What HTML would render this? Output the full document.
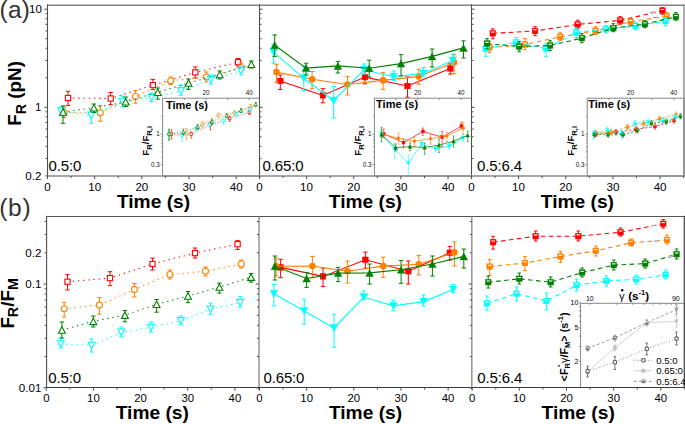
<!DOCTYPE html>
<html><head><meta charset="utf-8"><style>
html,body{margin:0;padding:0;background:#fff;}
svg{display:block;font-family:"Liberation Sans",sans-serif;}
</style></head><body>
<svg width="685" height="424" viewBox="0 0 685 424">
<rect x="0" y="0" width="685" height="424" fill="#fff"/>
<polyline points="68.00,98.00 110.70,98.50 152.90,85.10 195.30,72.40 238.10,62.20" fill="none" stroke="#ff0000" stroke-width="1.1" stroke-dasharray="1.3 3.9"/>
<line x1="68.00" y1="91.30" x2="68.00" y2="105.40" stroke="#ff0000" stroke-width="1.0" />
<line x1="65.80" y1="91.30" x2="70.20" y2="91.30" stroke="#ff0000" stroke-width="1.0" />
<line x1="65.80" y1="105.40" x2="70.20" y2="105.40" stroke="#ff0000" stroke-width="1.0" />
<line x1="110.70" y1="92.50" x2="110.70" y2="104.70" stroke="#ff0000" stroke-width="1.0" />
<line x1="108.50" y1="92.50" x2="112.90" y2="92.50" stroke="#ff0000" stroke-width="1.0" />
<line x1="108.50" y1="104.70" x2="112.90" y2="104.70" stroke="#ff0000" stroke-width="1.0" />
<line x1="152.90" y1="79.40" x2="152.90" y2="89.70" stroke="#ff0000" stroke-width="1.0" />
<line x1="150.70" y1="79.40" x2="155.10" y2="79.40" stroke="#ff0000" stroke-width="1.0" />
<line x1="150.70" y1="89.70" x2="155.10" y2="89.70" stroke="#ff0000" stroke-width="1.0" />
<line x1="195.30" y1="67.00" x2="195.30" y2="78.00" stroke="#ff0000" stroke-width="1.0" />
<line x1="193.10" y1="67.00" x2="197.50" y2="67.00" stroke="#ff0000" stroke-width="1.0" />
<line x1="193.10" y1="78.00" x2="197.50" y2="78.00" stroke="#ff0000" stroke-width="1.0" />
<line x1="238.10" y1="58.50" x2="238.10" y2="66.00" stroke="#ff0000" stroke-width="1.0" />
<line x1="235.90" y1="58.50" x2="240.30" y2="58.50" stroke="#ff0000" stroke-width="1.0" />
<line x1="235.90" y1="66.00" x2="240.30" y2="66.00" stroke="#ff0000" stroke-width="1.0" />
<rect x="65.40" y="95.40" width="5.20" height="5.20" fill="#fff" stroke="#ff0000" stroke-width="1.1"/>
<rect x="108.10" y="95.90" width="5.20" height="5.20" fill="#fff" stroke="#ff0000" stroke-width="1.1"/>
<rect x="150.30" y="82.50" width="5.20" height="5.20" fill="#fff" stroke="#ff0000" stroke-width="1.1"/>
<rect x="192.70" y="69.80" width="5.20" height="5.20" fill="#fff" stroke="#ff0000" stroke-width="1.1"/>
<rect x="235.50" y="59.60" width="5.20" height="5.20" fill="#fff" stroke="#ff0000" stroke-width="1.1"/>
<polyline points="64.10,112.60 100.30,112.80 135.40,96.50 170.70,80.80 206.30,77.00 241.30,67.80" fill="none" stroke="#ff8000" stroke-width="1.1" stroke-dasharray="1.3 3.9"/>
<line x1="64.10" y1="107.00" x2="64.10" y2="117.50" stroke="#ff8000" stroke-width="1.0" />
<line x1="61.90" y1="107.00" x2="66.30" y2="107.00" stroke="#ff8000" stroke-width="1.0" />
<line x1="61.90" y1="117.50" x2="66.30" y2="117.50" stroke="#ff8000" stroke-width="1.0" />
<line x1="100.30" y1="105.50" x2="100.30" y2="121.20" stroke="#ff8000" stroke-width="1.0" />
<line x1="98.10" y1="105.50" x2="102.50" y2="105.50" stroke="#ff8000" stroke-width="1.0" />
<line x1="98.10" y1="121.20" x2="102.50" y2="121.20" stroke="#ff8000" stroke-width="1.0" />
<line x1="135.40" y1="90.60" x2="135.40" y2="103.20" stroke="#ff8000" stroke-width="1.0" />
<line x1="133.20" y1="90.60" x2="137.60" y2="90.60" stroke="#ff8000" stroke-width="1.0" />
<line x1="133.20" y1="103.20" x2="137.60" y2="103.20" stroke="#ff8000" stroke-width="1.0" />
<line x1="170.70" y1="77.00" x2="170.70" y2="84.50" stroke="#ff8000" stroke-width="1.0" />
<line x1="168.50" y1="77.00" x2="172.90" y2="77.00" stroke="#ff8000" stroke-width="1.0" />
<line x1="168.50" y1="84.50" x2="172.90" y2="84.50" stroke="#ff8000" stroke-width="1.0" />
<line x1="206.30" y1="72.00" x2="206.30" y2="82.00" stroke="#ff8000" stroke-width="1.0" />
<line x1="204.10" y1="72.00" x2="208.50" y2="72.00" stroke="#ff8000" stroke-width="1.0" />
<line x1="204.10" y1="82.00" x2="208.50" y2="82.00" stroke="#ff8000" stroke-width="1.0" />
<line x1="241.30" y1="63.00" x2="241.30" y2="72.00" stroke="#ff8000" stroke-width="1.0" />
<line x1="239.10" y1="63.00" x2="243.50" y2="63.00" stroke="#ff8000" stroke-width="1.0" />
<line x1="239.10" y1="72.00" x2="243.50" y2="72.00" stroke="#ff8000" stroke-width="1.0" />
<circle cx="64.10" cy="112.60" r="3.00" fill="#fff" stroke="#ff8000" stroke-width="1.1"/>
<circle cx="100.30" cy="112.80" r="3.00" fill="#fff" stroke="#ff8000" stroke-width="1.1"/>
<circle cx="135.40" cy="96.50" r="3.00" fill="#fff" stroke="#ff8000" stroke-width="1.1"/>
<circle cx="170.70" cy="80.80" r="3.00" fill="#fff" stroke="#ff8000" stroke-width="1.1"/>
<circle cx="206.30" cy="77.00" r="3.00" fill="#fff" stroke="#ff8000" stroke-width="1.1"/>
<circle cx="241.30" cy="67.80" r="3.00" fill="#fff" stroke="#ff8000" stroke-width="1.1"/>
<polyline points="61.20,111.00 91.30,115.30 122.50,101.50 151.60,97.60 181.00,90.80 210.90,79.60 241.00,70.80" fill="none" stroke="#00ffff" stroke-width="1.1" stroke-dasharray="1.3 3.9"/>
<line x1="61.20" y1="107.00" x2="61.20" y2="116.00" stroke="#00ffff" stroke-width="1.0" />
<line x1="59.00" y1="107.00" x2="63.40" y2="107.00" stroke="#00ffff" stroke-width="1.0" />
<line x1="59.00" y1="116.00" x2="63.40" y2="116.00" stroke="#00ffff" stroke-width="1.0" />
<line x1="91.30" y1="110.00" x2="91.30" y2="123.30" stroke="#00ffff" stroke-width="1.0" />
<line x1="89.10" y1="110.00" x2="93.50" y2="110.00" stroke="#00ffff" stroke-width="1.0" />
<line x1="89.10" y1="123.30" x2="93.50" y2="123.30" stroke="#00ffff" stroke-width="1.0" />
<line x1="122.50" y1="96.00" x2="122.50" y2="107.00" stroke="#00ffff" stroke-width="1.0" />
<line x1="120.30" y1="96.00" x2="124.70" y2="96.00" stroke="#00ffff" stroke-width="1.0" />
<line x1="120.30" y1="107.00" x2="124.70" y2="107.00" stroke="#00ffff" stroke-width="1.0" />
<line x1="151.60" y1="93.00" x2="151.60" y2="101.70" stroke="#00ffff" stroke-width="1.0" />
<line x1="149.40" y1="93.00" x2="153.80" y2="93.00" stroke="#00ffff" stroke-width="1.0" />
<line x1="149.40" y1="101.70" x2="153.80" y2="101.70" stroke="#00ffff" stroke-width="1.0" />
<line x1="181.00" y1="85.00" x2="181.00" y2="95.20" stroke="#00ffff" stroke-width="1.0" />
<line x1="178.80" y1="85.00" x2="183.20" y2="85.00" stroke="#00ffff" stroke-width="1.0" />
<line x1="178.80" y1="95.20" x2="183.20" y2="95.20" stroke="#00ffff" stroke-width="1.0" />
<line x1="210.90" y1="75.00" x2="210.90" y2="84.00" stroke="#00ffff" stroke-width="1.0" />
<line x1="208.70" y1="75.00" x2="213.10" y2="75.00" stroke="#00ffff" stroke-width="1.0" />
<line x1="208.70" y1="84.00" x2="213.10" y2="84.00" stroke="#00ffff" stroke-width="1.0" />
<line x1="241.00" y1="66.00" x2="241.00" y2="75.00" stroke="#00ffff" stroke-width="1.0" />
<line x1="238.80" y1="66.00" x2="243.20" y2="66.00" stroke="#00ffff" stroke-width="1.0" />
<line x1="238.80" y1="75.00" x2="243.20" y2="75.00" stroke="#00ffff" stroke-width="1.0" />
<polygon points="61.20,114.20 64.65,107.80 57.75,107.80" fill="#fff" stroke="#00ffff" stroke-width="1.1" stroke-linejoin="miter"/>
<polygon points="91.30,118.50 94.75,112.10 87.85,112.10" fill="#fff" stroke="#00ffff" stroke-width="1.1" stroke-linejoin="miter"/>
<polygon points="122.50,104.70 125.95,98.30 119.05,98.30" fill="#fff" stroke="#00ffff" stroke-width="1.1" stroke-linejoin="miter"/>
<polygon points="151.60,100.80 155.05,94.40 148.15,94.40" fill="#fff" stroke="#00ffff" stroke-width="1.1" stroke-linejoin="miter"/>
<polygon points="181.00,94.00 184.45,87.60 177.55,87.60" fill="#fff" stroke="#00ffff" stroke-width="1.1" stroke-linejoin="miter"/>
<polygon points="210.90,82.80 214.35,76.40 207.45,76.40" fill="#fff" stroke="#00ffff" stroke-width="1.1" stroke-linejoin="miter"/>
<polygon points="241.00,74.00 244.45,67.60 237.55,67.60" fill="#fff" stroke="#00ffff" stroke-width="1.1" stroke-linejoin="miter"/>
<polyline points="63.00,112.00 93.90,107.80 125.70,101.80 157.70,92.30 188.50,83.00 219.70,74.50 251.30,64.30" fill="none" stroke="#008000" stroke-width="1.1" stroke-dasharray="1.3 3.9"/>
<line x1="63.00" y1="105.90" x2="63.00" y2="123.30" stroke="#008000" stroke-width="1.0" />
<line x1="60.80" y1="105.90" x2="65.20" y2="105.90" stroke="#008000" stroke-width="1.0" />
<line x1="60.80" y1="123.30" x2="65.20" y2="123.30" stroke="#008000" stroke-width="1.0" />
<line x1="93.90" y1="104.00" x2="93.90" y2="112.50" stroke="#008000" stroke-width="1.0" />
<line x1="91.70" y1="104.00" x2="96.10" y2="104.00" stroke="#008000" stroke-width="1.0" />
<line x1="91.70" y1="112.50" x2="96.10" y2="112.50" stroke="#008000" stroke-width="1.0" />
<line x1="125.70" y1="97.00" x2="125.70" y2="106.50" stroke="#008000" stroke-width="1.0" />
<line x1="123.50" y1="97.00" x2="127.90" y2="97.00" stroke="#008000" stroke-width="1.0" />
<line x1="123.50" y1="106.50" x2="127.90" y2="106.50" stroke="#008000" stroke-width="1.0" />
<line x1="157.70" y1="88.00" x2="157.70" y2="99.10" stroke="#008000" stroke-width="1.0" />
<line x1="155.50" y1="88.00" x2="159.90" y2="88.00" stroke="#008000" stroke-width="1.0" />
<line x1="155.50" y1="99.10" x2="159.90" y2="99.10" stroke="#008000" stroke-width="1.0" />
<line x1="188.50" y1="79.00" x2="188.50" y2="89.40" stroke="#008000" stroke-width="1.0" />
<line x1="186.30" y1="79.00" x2="190.70" y2="79.00" stroke="#008000" stroke-width="1.0" />
<line x1="186.30" y1="89.40" x2="190.70" y2="89.40" stroke="#008000" stroke-width="1.0" />
<line x1="219.70" y1="71.00" x2="219.70" y2="79.00" stroke="#008000" stroke-width="1.0" />
<line x1="217.50" y1="71.00" x2="221.90" y2="71.00" stroke="#008000" stroke-width="1.0" />
<line x1="217.50" y1="79.00" x2="221.90" y2="79.00" stroke="#008000" stroke-width="1.0" />
<line x1="251.30" y1="61.00" x2="251.30" y2="68.00" stroke="#008000" stroke-width="1.0" />
<line x1="249.10" y1="61.00" x2="253.50" y2="61.00" stroke="#008000" stroke-width="1.0" />
<line x1="249.10" y1="68.00" x2="253.50" y2="68.00" stroke="#008000" stroke-width="1.0" />
<polygon points="63.00,108.80 66.45,115.20 59.55,115.20" fill="#fff" stroke="#008000" stroke-width="1.1" stroke-linejoin="miter"/>
<polygon points="93.90,104.60 97.35,111.00 90.45,111.00" fill="#fff" stroke="#008000" stroke-width="1.1" stroke-linejoin="miter"/>
<polygon points="125.70,98.60 129.15,105.00 122.25,105.00" fill="#fff" stroke="#008000" stroke-width="1.1" stroke-linejoin="miter"/>
<polygon points="157.70,89.10 161.15,95.50 154.25,95.50" fill="#fff" stroke="#008000" stroke-width="1.1" stroke-linejoin="miter"/>
<polygon points="188.50,79.80 191.95,86.20 185.05,86.20" fill="#fff" stroke="#008000" stroke-width="1.1" stroke-linejoin="miter"/>
<polygon points="219.70,71.30 223.15,77.70 216.25,77.70" fill="#fff" stroke="#008000" stroke-width="1.1" stroke-linejoin="miter"/>
<polygon points="251.30,61.10 254.75,67.50 247.85,67.50" fill="#fff" stroke="#008000" stroke-width="1.1" stroke-linejoin="miter"/>
<polyline points="280.30,80.90 322.90,95.40 364.90,77.10 407.50,86.00 450.30,68.50" fill="none" stroke="#ff0000" stroke-width="1.1" />
<line x1="280.30" y1="75.00" x2="280.30" y2="89.40" stroke="#ff0000" stroke-width="1.0" />
<line x1="278.10" y1="75.00" x2="282.50" y2="75.00" stroke="#ff0000" stroke-width="1.0" />
<line x1="278.10" y1="89.40" x2="282.50" y2="89.40" stroke="#ff0000" stroke-width="1.0" />
<line x1="322.90" y1="88.70" x2="322.90" y2="102.80" stroke="#ff0000" stroke-width="1.0" />
<line x1="320.70" y1="88.70" x2="325.10" y2="88.70" stroke="#ff0000" stroke-width="1.0" />
<line x1="320.70" y1="102.80" x2="325.10" y2="102.80" stroke="#ff0000" stroke-width="1.0" />
<line x1="364.90" y1="71.40" x2="364.90" y2="83.80" stroke="#ff0000" stroke-width="1.0" />
<line x1="362.70" y1="71.40" x2="367.10" y2="71.40" stroke="#ff0000" stroke-width="1.0" />
<line x1="362.70" y1="83.80" x2="367.10" y2="83.80" stroke="#ff0000" stroke-width="1.0" />
<line x1="407.50" y1="77.00" x2="407.50" y2="97.20" stroke="#ff0000" stroke-width="1.0" />
<line x1="405.30" y1="77.00" x2="409.70" y2="77.00" stroke="#ff0000" stroke-width="1.0" />
<line x1="405.30" y1="97.20" x2="409.70" y2="97.20" stroke="#ff0000" stroke-width="1.0" />
<line x1="450.30" y1="63.20" x2="450.30" y2="74.10" stroke="#ff0000" stroke-width="1.0" />
<line x1="448.10" y1="63.20" x2="452.50" y2="63.20" stroke="#ff0000" stroke-width="1.0" />
<line x1="448.10" y1="74.10" x2="452.50" y2="74.10" stroke="#ff0000" stroke-width="1.0" />
<rect x="277.45" y="78.05" width="5.70" height="5.70" fill="#ff0000" stroke="#ff0000" stroke-width="0.4"/>
<rect x="320.05" y="92.55" width="5.70" height="5.70" fill="#ff0000" stroke="#ff0000" stroke-width="0.4"/>
<rect x="362.05" y="74.25" width="5.70" height="5.70" fill="#ff0000" stroke="#ff0000" stroke-width="0.4"/>
<rect x="404.65" y="83.15" width="5.70" height="5.70" fill="#ff0000" stroke="#ff0000" stroke-width="0.4"/>
<rect x="447.45" y="65.65" width="5.70" height="5.70" fill="#ff0000" stroke="#ff0000" stroke-width="0.4"/>
<polyline points="276.50,72.10 312.10,79.30 347.50,84.50 383.10,80.40 418.70,76.40 454.10,62.50" fill="none" stroke="#ff8000" stroke-width="1.1" />
<line x1="276.50" y1="64.30" x2="276.50" y2="82.20" stroke="#ff8000" stroke-width="1.0" />
<line x1="274.30" y1="64.30" x2="278.70" y2="64.30" stroke="#ff8000" stroke-width="1.0" />
<line x1="274.30" y1="82.20" x2="278.70" y2="82.20" stroke="#ff8000" stroke-width="1.0" />
<line x1="312.10" y1="71.50" x2="312.10" y2="88.70" stroke="#ff8000" stroke-width="1.0" />
<line x1="309.90" y1="71.50" x2="314.30" y2="71.50" stroke="#ff8000" stroke-width="1.0" />
<line x1="309.90" y1="88.70" x2="314.30" y2="88.70" stroke="#ff8000" stroke-width="1.0" />
<line x1="347.50" y1="76.60" x2="347.50" y2="95.00" stroke="#ff8000" stroke-width="1.0" />
<line x1="345.30" y1="76.60" x2="349.70" y2="76.60" stroke="#ff8000" stroke-width="1.0" />
<line x1="345.30" y1="95.00" x2="349.70" y2="95.00" stroke="#ff8000" stroke-width="1.0" />
<line x1="383.10" y1="72.60" x2="383.10" y2="89.40" stroke="#ff8000" stroke-width="1.0" />
<line x1="380.90" y1="72.60" x2="385.30" y2="72.60" stroke="#ff8000" stroke-width="1.0" />
<line x1="380.90" y1="89.40" x2="385.30" y2="89.40" stroke="#ff8000" stroke-width="1.0" />
<line x1="418.70" y1="69.20" x2="418.70" y2="84.20" stroke="#ff8000" stroke-width="1.0" />
<line x1="416.50" y1="69.20" x2="420.90" y2="69.20" stroke="#ff8000" stroke-width="1.0" />
<line x1="416.50" y1="84.20" x2="420.90" y2="84.20" stroke="#ff8000" stroke-width="1.0" />
<line x1="454.10" y1="54.60" x2="454.10" y2="73.70" stroke="#ff8000" stroke-width="1.0" />
<line x1="451.90" y1="54.60" x2="456.30" y2="54.60" stroke="#ff8000" stroke-width="1.0" />
<line x1="451.90" y1="73.70" x2="456.30" y2="73.70" stroke="#ff8000" stroke-width="1.0" />
<circle cx="276.50" cy="72.10" r="3.30" fill="#ff8000"/>
<circle cx="312.10" cy="79.30" r="3.30" fill="#ff8000"/>
<circle cx="347.50" cy="84.50" r="3.30" fill="#ff8000"/>
<circle cx="383.10" cy="80.40" r="3.30" fill="#ff8000"/>
<circle cx="418.70" cy="76.40" r="3.30" fill="#ff8000"/>
<circle cx="454.10" cy="62.50" r="3.30" fill="#ff8000"/>
<polyline points="273.60,52.10 303.80,78.30 333.60,100.70 364.10,69.80 393.60,76.70 423.40,73.40 452.80,60.40" fill="none" stroke="#00ffff" stroke-width="1.1" />
<line x1="273.60" y1="44.00" x2="273.60" y2="63.20" stroke="#00ffff" stroke-width="1.0" />
<line x1="271.40" y1="44.00" x2="275.80" y2="44.00" stroke="#00ffff" stroke-width="1.0" />
<line x1="271.40" y1="63.20" x2="275.80" y2="63.20" stroke="#00ffff" stroke-width="1.0" />
<line x1="303.80" y1="66.00" x2="303.80" y2="90.50" stroke="#00ffff" stroke-width="1.0" />
<line x1="301.60" y1="66.00" x2="306.00" y2="66.00" stroke="#00ffff" stroke-width="1.0" />
<line x1="301.60" y1="90.50" x2="306.00" y2="90.50" stroke="#00ffff" stroke-width="1.0" />
<line x1="333.60" y1="86.50" x2="333.60" y2="117.90" stroke="#00ffff" stroke-width="1.0" />
<line x1="331.40" y1="86.50" x2="335.80" y2="86.50" stroke="#00ffff" stroke-width="1.0" />
<line x1="331.40" y1="117.90" x2="335.80" y2="117.90" stroke="#00ffff" stroke-width="1.0" />
<line x1="364.10" y1="64.00" x2="364.10" y2="74.00" stroke="#00ffff" stroke-width="1.0" />
<line x1="361.90" y1="64.00" x2="366.30" y2="64.00" stroke="#00ffff" stroke-width="1.0" />
<line x1="361.90" y1="74.00" x2="366.30" y2="74.00" stroke="#00ffff" stroke-width="1.0" />
<line x1="393.60" y1="71.00" x2="393.60" y2="80.40" stroke="#00ffff" stroke-width="1.0" />
<line x1="391.40" y1="71.00" x2="395.80" y2="71.00" stroke="#00ffff" stroke-width="1.0" />
<line x1="391.40" y1="80.40" x2="395.80" y2="80.40" stroke="#00ffff" stroke-width="1.0" />
<line x1="423.40" y1="67.60" x2="423.40" y2="77.00" stroke="#00ffff" stroke-width="1.0" />
<line x1="421.20" y1="67.60" x2="425.60" y2="67.60" stroke="#00ffff" stroke-width="1.0" />
<line x1="421.20" y1="77.00" x2="425.60" y2="77.00" stroke="#00ffff" stroke-width="1.0" />
<line x1="452.80" y1="54.00" x2="452.80" y2="64.00" stroke="#00ffff" stroke-width="1.0" />
<line x1="450.60" y1="54.00" x2="455.00" y2="54.00" stroke="#00ffff" stroke-width="1.0" />
<line x1="450.60" y1="64.00" x2="455.00" y2="64.00" stroke="#00ffff" stroke-width="1.0" />
<polygon points="273.60,55.60 277.50,48.60 269.70,48.60" fill="#00ffff" stroke="#00ffff" stroke-width="0.4"/>
<polygon points="303.80,81.80 307.70,74.80 299.90,74.80" fill="#00ffff" stroke="#00ffff" stroke-width="0.4"/>
<polygon points="333.60,104.20 337.50,97.20 329.70,97.20" fill="#00ffff" stroke="#00ffff" stroke-width="0.4"/>
<polygon points="364.10,73.30 368.00,66.30 360.20,66.30" fill="#00ffff" stroke="#00ffff" stroke-width="0.4"/>
<polygon points="393.60,80.20 397.50,73.20 389.70,73.20" fill="#00ffff" stroke="#00ffff" stroke-width="0.4"/>
<polygon points="423.40,76.90 427.30,69.90 419.50,69.90" fill="#00ffff" stroke="#00ffff" stroke-width="0.4"/>
<polygon points="452.80,63.90 456.70,56.90 448.90,56.90" fill="#00ffff" stroke="#00ffff" stroke-width="0.4"/>
<polyline points="274.70,45.20 306.10,68.10 337.90,65.90 369.20,68.30 401.00,63.60 432.10,56.40 463.50,47.90" fill="none" stroke="#008000" stroke-width="1.1" />
<line x1="274.70" y1="34.90" x2="274.70" y2="56.40" stroke="#008000" stroke-width="1.0" />
<line x1="272.50" y1="34.90" x2="276.90" y2="34.90" stroke="#008000" stroke-width="1.0" />
<line x1="272.50" y1="56.40" x2="276.90" y2="56.40" stroke="#008000" stroke-width="1.0" />
<line x1="306.10" y1="63.20" x2="306.10" y2="74.80" stroke="#008000" stroke-width="1.0" />
<line x1="303.90" y1="63.20" x2="308.30" y2="63.20" stroke="#008000" stroke-width="1.0" />
<line x1="303.90" y1="74.80" x2="308.30" y2="74.80" stroke="#008000" stroke-width="1.0" />
<line x1="337.90" y1="61.40" x2="337.90" y2="73.00" stroke="#008000" stroke-width="1.0" />
<line x1="335.70" y1="61.40" x2="340.10" y2="61.40" stroke="#008000" stroke-width="1.0" />
<line x1="335.70" y1="73.00" x2="340.10" y2="73.00" stroke="#008000" stroke-width="1.0" />
<line x1="369.20" y1="60.20" x2="369.20" y2="77.00" stroke="#008000" stroke-width="1.0" />
<line x1="367.00" y1="60.20" x2="371.40" y2="60.20" stroke="#008000" stroke-width="1.0" />
<line x1="367.00" y1="77.00" x2="371.40" y2="77.00" stroke="#008000" stroke-width="1.0" />
<line x1="401.00" y1="54.60" x2="401.00" y2="75.90" stroke="#008000" stroke-width="1.0" />
<line x1="398.80" y1="54.60" x2="403.20" y2="54.60" stroke="#008000" stroke-width="1.0" />
<line x1="398.80" y1="75.90" x2="403.20" y2="75.90" stroke="#008000" stroke-width="1.0" />
<line x1="432.10" y1="49.00" x2="432.10" y2="67.00" stroke="#008000" stroke-width="1.0" />
<line x1="429.90" y1="49.00" x2="434.30" y2="49.00" stroke="#008000" stroke-width="1.0" />
<line x1="429.90" y1="67.00" x2="434.30" y2="67.00" stroke="#008000" stroke-width="1.0" />
<line x1="463.50" y1="40.80" x2="463.50" y2="58.00" stroke="#008000" stroke-width="1.0" />
<line x1="461.30" y1="40.80" x2="465.70" y2="40.80" stroke="#008000" stroke-width="1.0" />
<line x1="461.30" y1="58.00" x2="465.70" y2="58.00" stroke="#008000" stroke-width="1.0" />
<polygon points="274.70,41.70 278.60,48.70 270.80,48.70" fill="#008000" stroke="#008000" stroke-width="0.4"/>
<polygon points="306.10,64.60 310.00,71.60 302.20,71.60" fill="#008000" stroke="#008000" stroke-width="0.4"/>
<polygon points="337.90,62.40 341.80,69.40 334.00,69.40" fill="#008000" stroke="#008000" stroke-width="0.4"/>
<polygon points="369.20,64.80 373.10,71.80 365.30,71.80" fill="#008000" stroke="#008000" stroke-width="0.4"/>
<polygon points="401.00,60.10 404.90,67.10 397.10,67.10" fill="#008000" stroke="#008000" stroke-width="0.4"/>
<polygon points="432.10,52.90 436.00,59.90 428.20,59.90" fill="#008000" stroke="#008000" stroke-width="0.4"/>
<polygon points="463.50,44.40 467.40,51.40 459.60,51.40" fill="#008000" stroke="#008000" stroke-width="0.4"/>
<polyline points="492.80,33.30 535.10,31.00 577.70,24.40 620.20,20.40 662.60,10.70" fill="none" stroke="#ff0000" stroke-width="1.1" stroke-dasharray="4.6 3.4"/>
<line x1="492.80" y1="28.90" x2="492.80" y2="38.80" stroke="#ff0000" stroke-width="1.0" />
<line x1="491.00" y1="28.90" x2="494.60" y2="28.90" stroke="#ff0000" stroke-width="1.0" />
<line x1="491.00" y1="38.80" x2="494.60" y2="38.80" stroke="#ff0000" stroke-width="1.0" />
<line x1="535.10" y1="26.70" x2="535.10" y2="35.70" stroke="#ff0000" stroke-width="1.0" />
<line x1="533.30" y1="26.70" x2="536.90" y2="26.70" stroke="#ff0000" stroke-width="1.0" />
<line x1="533.30" y1="35.70" x2="536.90" y2="35.70" stroke="#ff0000" stroke-width="1.0" />
<line x1="577.70" y1="20.20" x2="577.70" y2="28.70" stroke="#ff0000" stroke-width="1.0" />
<line x1="575.90" y1="20.20" x2="579.50" y2="20.20" stroke="#ff0000" stroke-width="1.0" />
<line x1="575.90" y1="28.70" x2="579.50" y2="28.70" stroke="#ff0000" stroke-width="1.0" />
<line x1="620.20" y1="16.70" x2="620.20" y2="24.20" stroke="#ff0000" stroke-width="1.0" />
<line x1="618.40" y1="16.70" x2="622.00" y2="16.70" stroke="#ff0000" stroke-width="1.0" />
<line x1="618.40" y1="24.20" x2="622.00" y2="24.20" stroke="#ff0000" stroke-width="1.0" />
<line x1="662.60" y1="7.70" x2="662.60" y2="14.20" stroke="#ff0000" stroke-width="1.0" />
<line x1="660.80" y1="7.70" x2="664.40" y2="7.70" stroke="#ff0000" stroke-width="1.0" />
<line x1="660.80" y1="14.20" x2="664.40" y2="14.20" stroke="#ff0000" stroke-width="1.0" />
<rect x="489.95" y="30.45" width="5.70" height="5.70" fill="#ff0000" stroke="#ff0000" stroke-width="0.4"/>
<rect x="491.09" y="31.53" width="3.42" height="1.08" fill="#fff"/>
<rect x="532.25" y="28.15" width="5.70" height="5.70" fill="#ff0000" stroke="#ff0000" stroke-width="0.4"/>
<rect x="533.39" y="29.23" width="3.42" height="1.08" fill="#fff"/>
<rect x="574.85" y="21.55" width="5.70" height="5.70" fill="#ff0000" stroke="#ff0000" stroke-width="0.4"/>
<rect x="575.99" y="22.63" width="3.42" height="1.08" fill="#fff"/>
<rect x="617.35" y="17.55" width="5.70" height="5.70" fill="#ff0000" stroke="#ff0000" stroke-width="0.4"/>
<rect x="618.49" y="18.63" width="3.42" height="1.08" fill="#fff"/>
<rect x="659.75" y="7.85" width="5.70" height="5.70" fill="#ff0000" stroke="#ff0000" stroke-width="0.4"/>
<rect x="660.89" y="8.93" width="3.42" height="1.08" fill="#fff"/>
<polyline points="489.30,47.60 525.00,44.60 560.20,36.80 595.60,30.80 630.80,21.70 666.80,16.20" fill="none" stroke="#ff8000" stroke-width="1.1" stroke-dasharray="4.6 3.4"/>
<line x1="489.30" y1="41.70" x2="489.30" y2="52.70" stroke="#ff8000" stroke-width="1.0" />
<line x1="487.50" y1="41.70" x2="491.10" y2="41.70" stroke="#ff8000" stroke-width="1.0" />
<line x1="487.50" y1="52.70" x2="491.10" y2="52.70" stroke="#ff8000" stroke-width="1.0" />
<line x1="525.00" y1="38.70" x2="525.00" y2="49.70" stroke="#ff8000" stroke-width="1.0" />
<line x1="523.20" y1="38.70" x2="526.80" y2="38.70" stroke="#ff8000" stroke-width="1.0" />
<line x1="523.20" y1="49.70" x2="526.80" y2="49.70" stroke="#ff8000" stroke-width="1.0" />
<line x1="560.20" y1="32.70" x2="560.20" y2="40.70" stroke="#ff8000" stroke-width="1.0" />
<line x1="558.40" y1="32.70" x2="562.00" y2="32.70" stroke="#ff8000" stroke-width="1.0" />
<line x1="558.40" y1="40.70" x2="562.00" y2="40.70" stroke="#ff8000" stroke-width="1.0" />
<line x1="595.60" y1="26.70" x2="595.60" y2="34.70" stroke="#ff8000" stroke-width="1.0" />
<line x1="593.80" y1="26.70" x2="597.40" y2="26.70" stroke="#ff8000" stroke-width="1.0" />
<line x1="593.80" y1="34.70" x2="597.40" y2="34.70" stroke="#ff8000" stroke-width="1.0" />
<line x1="630.80" y1="18.70" x2="630.80" y2="24.70" stroke="#ff8000" stroke-width="1.0" />
<line x1="629.00" y1="18.70" x2="632.60" y2="18.70" stroke="#ff8000" stroke-width="1.0" />
<line x1="629.00" y1="24.70" x2="632.60" y2="24.70" stroke="#ff8000" stroke-width="1.0" />
<line x1="666.80" y1="12.70" x2="666.80" y2="19.70" stroke="#ff8000" stroke-width="1.0" />
<line x1="665.00" y1="12.70" x2="668.60" y2="12.70" stroke="#ff8000" stroke-width="1.0" />
<line x1="665.00" y1="19.70" x2="668.60" y2="19.70" stroke="#ff8000" stroke-width="1.0" />
<rect x="486.45" y="44.75" width="5.70" height="5.70" fill="#ff8000" stroke="#ff8000" stroke-width="0.4"/>
<rect x="487.59" y="45.83" width="3.42" height="1.08" fill="#fff"/>
<rect x="522.15" y="41.75" width="5.70" height="5.70" fill="#ff8000" stroke="#ff8000" stroke-width="0.4"/>
<rect x="523.29" y="42.83" width="3.42" height="1.08" fill="#fff"/>
<rect x="557.35" y="33.95" width="5.70" height="5.70" fill="#ff8000" stroke="#ff8000" stroke-width="0.4"/>
<rect x="558.49" y="35.03" width="3.42" height="1.08" fill="#fff"/>
<rect x="592.75" y="27.95" width="5.70" height="5.70" fill="#ff8000" stroke="#ff8000" stroke-width="0.4"/>
<rect x="593.89" y="29.03" width="3.42" height="1.08" fill="#fff"/>
<rect x="627.95" y="18.85" width="5.70" height="5.70" fill="#ff8000" stroke="#ff8000" stroke-width="0.4"/>
<rect x="629.09" y="19.93" width="3.42" height="1.08" fill="#fff"/>
<rect x="663.95" y="13.35" width="5.70" height="5.70" fill="#ff8000" stroke="#ff8000" stroke-width="0.4"/>
<rect x="665.09" y="14.43" width="3.42" height="1.08" fill="#fff"/>
<polyline points="485.80,48.70 516.20,42.30 546.00,48.70 576.10,32.60 606.00,29.00 635.70,25.90 665.50,21.10" fill="none" stroke="#00ffff" stroke-width="1.1" stroke-dasharray="4.6 3.4"/>
<line x1="485.80" y1="42.70" x2="485.80" y2="56.70" stroke="#00ffff" stroke-width="1.0" />
<line x1="484.00" y1="42.70" x2="487.60" y2="42.70" stroke="#00ffff" stroke-width="1.0" />
<line x1="484.00" y1="56.70" x2="487.60" y2="56.70" stroke="#00ffff" stroke-width="1.0" />
<line x1="516.20" y1="37.70" x2="516.20" y2="46.70" stroke="#00ffff" stroke-width="1.0" />
<line x1="514.40" y1="37.70" x2="518.00" y2="37.70" stroke="#00ffff" stroke-width="1.0" />
<line x1="514.40" y1="46.70" x2="518.00" y2="46.70" stroke="#00ffff" stroke-width="1.0" />
<line x1="546.00" y1="43.70" x2="546.00" y2="56.70" stroke="#00ffff" stroke-width="1.0" />
<line x1="544.20" y1="43.70" x2="547.80" y2="43.70" stroke="#00ffff" stroke-width="1.0" />
<line x1="544.20" y1="56.70" x2="547.80" y2="56.70" stroke="#00ffff" stroke-width="1.0" />
<line x1="576.10" y1="28.70" x2="576.10" y2="37.70" stroke="#00ffff" stroke-width="1.0" />
<line x1="574.30" y1="28.70" x2="577.90" y2="28.70" stroke="#00ffff" stroke-width="1.0" />
<line x1="574.30" y1="37.70" x2="577.90" y2="37.70" stroke="#00ffff" stroke-width="1.0" />
<line x1="606.00" y1="25.70" x2="606.00" y2="32.70" stroke="#00ffff" stroke-width="1.0" />
<line x1="604.20" y1="25.70" x2="607.80" y2="25.70" stroke="#00ffff" stroke-width="1.0" />
<line x1="604.20" y1="32.70" x2="607.80" y2="32.70" stroke="#00ffff" stroke-width="1.0" />
<line x1="635.70" y1="22.70" x2="635.70" y2="29.70" stroke="#00ffff" stroke-width="1.0" />
<line x1="633.90" y1="22.70" x2="637.50" y2="22.70" stroke="#00ffff" stroke-width="1.0" />
<line x1="633.90" y1="29.70" x2="637.50" y2="29.70" stroke="#00ffff" stroke-width="1.0" />
<line x1="665.50" y1="17.70" x2="665.50" y2="25.70" stroke="#00ffff" stroke-width="1.0" />
<line x1="663.70" y1="17.70" x2="667.30" y2="17.70" stroke="#00ffff" stroke-width="1.0" />
<line x1="663.70" y1="25.70" x2="667.30" y2="25.70" stroke="#00ffff" stroke-width="1.0" />
<rect x="482.95" y="45.85" width="5.70" height="5.70" fill="#00ffff" stroke="#00ffff" stroke-width="0.4"/>
<rect x="484.09" y="46.93" width="3.42" height="1.08" fill="#fff"/>
<rect x="513.35" y="39.45" width="5.70" height="5.70" fill="#00ffff" stroke="#00ffff" stroke-width="0.4"/>
<rect x="514.49" y="40.53" width="3.42" height="1.08" fill="#fff"/>
<rect x="543.15" y="45.85" width="5.70" height="5.70" fill="#00ffff" stroke="#00ffff" stroke-width="0.4"/>
<rect x="544.29" y="46.93" width="3.42" height="1.08" fill="#fff"/>
<rect x="573.25" y="29.75" width="5.70" height="5.70" fill="#00ffff" stroke="#00ffff" stroke-width="0.4"/>
<rect x="574.39" y="30.83" width="3.42" height="1.08" fill="#fff"/>
<rect x="603.15" y="26.15" width="5.70" height="5.70" fill="#00ffff" stroke="#00ffff" stroke-width="0.4"/>
<rect x="604.29" y="27.23" width="3.42" height="1.08" fill="#fff"/>
<rect x="632.85" y="23.05" width="5.70" height="5.70" fill="#00ffff" stroke="#00ffff" stroke-width="0.4"/>
<rect x="633.99" y="24.13" width="3.42" height="1.08" fill="#fff"/>
<rect x="662.65" y="18.25" width="5.70" height="5.70" fill="#00ffff" stroke="#00ffff" stroke-width="0.4"/>
<rect x="663.79" y="19.33" width="3.42" height="1.08" fill="#fff"/>
<polyline points="487.00,43.50 519.10,46.60 550.10,45.50 581.90,38.10 613.30,28.10 644.90,24.10 675.90,16.80" fill="none" stroke="#008000" stroke-width="1.1" stroke-dasharray="4.6 3.4"/>
<line x1="487.00" y1="38.70" x2="487.00" y2="48.70" stroke="#008000" stroke-width="1.0" />
<line x1="485.20" y1="38.70" x2="488.80" y2="38.70" stroke="#008000" stroke-width="1.0" />
<line x1="485.20" y1="48.70" x2="488.80" y2="48.70" stroke="#008000" stroke-width="1.0" />
<line x1="519.10" y1="41.70" x2="519.10" y2="51.70" stroke="#008000" stroke-width="1.0" />
<line x1="517.30" y1="41.70" x2="520.90" y2="41.70" stroke="#008000" stroke-width="1.0" />
<line x1="517.30" y1="51.70" x2="520.90" y2="51.70" stroke="#008000" stroke-width="1.0" />
<line x1="550.10" y1="40.70" x2="550.10" y2="50.70" stroke="#008000" stroke-width="1.0" />
<line x1="548.30" y1="40.70" x2="551.90" y2="40.70" stroke="#008000" stroke-width="1.0" />
<line x1="548.30" y1="50.70" x2="551.90" y2="50.70" stroke="#008000" stroke-width="1.0" />
<line x1="581.90" y1="33.70" x2="581.90" y2="42.70" stroke="#008000" stroke-width="1.0" />
<line x1="580.10" y1="33.70" x2="583.70" y2="33.70" stroke="#008000" stroke-width="1.0" />
<line x1="580.10" y1="42.70" x2="583.70" y2="42.70" stroke="#008000" stroke-width="1.0" />
<line x1="613.30" y1="23.70" x2="613.30" y2="31.70" stroke="#008000" stroke-width="1.0" />
<line x1="611.50" y1="23.70" x2="615.10" y2="23.70" stroke="#008000" stroke-width="1.0" />
<line x1="611.50" y1="31.70" x2="615.10" y2="31.70" stroke="#008000" stroke-width="1.0" />
<line x1="644.90" y1="20.70" x2="644.90" y2="27.70" stroke="#008000" stroke-width="1.0" />
<line x1="643.10" y1="20.70" x2="646.70" y2="20.70" stroke="#008000" stroke-width="1.0" />
<line x1="643.10" y1="27.70" x2="646.70" y2="27.70" stroke="#008000" stroke-width="1.0" />
<line x1="675.90" y1="12.70" x2="675.90" y2="20.20" stroke="#008000" stroke-width="1.0" />
<line x1="674.10" y1="12.70" x2="677.70" y2="12.70" stroke="#008000" stroke-width="1.0" />
<line x1="674.10" y1="20.20" x2="677.70" y2="20.20" stroke="#008000" stroke-width="1.0" />
<rect x="484.15" y="40.65" width="5.70" height="5.70" fill="#008000" stroke="#008000" stroke-width="0.4"/>
<rect x="485.29" y="41.73" width="3.42" height="1.08" fill="#fff"/>
<rect x="516.25" y="43.75" width="5.70" height="5.70" fill="#008000" stroke="#008000" stroke-width="0.4"/>
<rect x="517.39" y="44.83" width="3.42" height="1.08" fill="#fff"/>
<rect x="547.25" y="42.65" width="5.70" height="5.70" fill="#008000" stroke="#008000" stroke-width="0.4"/>
<rect x="548.39" y="43.73" width="3.42" height="1.08" fill="#fff"/>
<rect x="579.05" y="35.25" width="5.70" height="5.70" fill="#008000" stroke="#008000" stroke-width="0.4"/>
<rect x="580.19" y="36.33" width="3.42" height="1.08" fill="#fff"/>
<rect x="610.45" y="25.25" width="5.70" height="5.70" fill="#008000" stroke="#008000" stroke-width="0.4"/>
<rect x="611.59" y="26.33" width="3.42" height="1.08" fill="#fff"/>
<rect x="642.05" y="21.25" width="5.70" height="5.70" fill="#008000" stroke="#008000" stroke-width="0.4"/>
<rect x="643.19" y="22.33" width="3.42" height="1.08" fill="#fff"/>
<rect x="673.05" y="13.95" width="5.70" height="5.70" fill="#008000" stroke="#008000" stroke-width="0.4"/>
<rect x="674.19" y="15.03" width="3.42" height="1.08" fill="#fff"/>
<polyline points="67.50,281.70 110.00,278.10 152.50,264.00 195.00,253.10 237.60,244.20" fill="none" stroke="#ff0000" stroke-width="1.1" stroke-dasharray="1.3 3.9"/>
<line x1="67.50" y1="274.60" x2="67.50" y2="289.90" stroke="#ff0000" stroke-width="1.0" />
<line x1="65.30" y1="274.60" x2="69.70" y2="274.60" stroke="#ff0000" stroke-width="1.0" />
<line x1="65.30" y1="289.90" x2="69.70" y2="289.90" stroke="#ff0000" stroke-width="1.0" />
<line x1="110.00" y1="271.70" x2="110.00" y2="285.70" stroke="#ff0000" stroke-width="1.0" />
<line x1="107.80" y1="271.70" x2="112.20" y2="271.70" stroke="#ff0000" stroke-width="1.0" />
<line x1="107.80" y1="285.70" x2="112.20" y2="285.70" stroke="#ff0000" stroke-width="1.0" />
<line x1="152.50" y1="258.00" x2="152.50" y2="270.00" stroke="#ff0000" stroke-width="1.0" />
<line x1="150.30" y1="258.00" x2="154.70" y2="258.00" stroke="#ff0000" stroke-width="1.0" />
<line x1="150.30" y1="270.00" x2="154.70" y2="270.00" stroke="#ff0000" stroke-width="1.0" />
<line x1="195.00" y1="248.00" x2="195.00" y2="258.00" stroke="#ff0000" stroke-width="1.0" />
<line x1="192.80" y1="248.00" x2="197.20" y2="248.00" stroke="#ff0000" stroke-width="1.0" />
<line x1="192.80" y1="258.00" x2="197.20" y2="258.00" stroke="#ff0000" stroke-width="1.0" />
<line x1="237.60" y1="240.60" x2="237.60" y2="249.40" stroke="#ff0000" stroke-width="1.0" />
<line x1="235.40" y1="240.60" x2="239.80" y2="240.60" stroke="#ff0000" stroke-width="1.0" />
<line x1="235.40" y1="249.40" x2="239.80" y2="249.40" stroke="#ff0000" stroke-width="1.0" />
<rect x="64.90" y="279.10" width="5.20" height="5.20" fill="#fff" stroke="#ff0000" stroke-width="1.1"/>
<rect x="107.40" y="275.50" width="5.20" height="5.20" fill="#fff" stroke="#ff0000" stroke-width="1.1"/>
<rect x="149.90" y="261.40" width="5.20" height="5.20" fill="#fff" stroke="#ff0000" stroke-width="1.1"/>
<rect x="192.40" y="250.50" width="5.20" height="5.20" fill="#fff" stroke="#ff0000" stroke-width="1.1"/>
<rect x="235.00" y="241.60" width="5.20" height="5.20" fill="#fff" stroke="#ff0000" stroke-width="1.1"/>
<polyline points="64.20,308.80 99.40,305.00 134.40,289.60 169.90,274.50 205.50,271.20 241.20,264.00" fill="none" stroke="#ff8000" stroke-width="1.1" stroke-dasharray="1.3 3.9"/>
<line x1="64.20" y1="302.40" x2="64.20" y2="317.00" stroke="#ff8000" stroke-width="1.0" />
<line x1="62.00" y1="302.40" x2="66.40" y2="302.40" stroke="#ff8000" stroke-width="1.0" />
<line x1="62.00" y1="317.00" x2="66.40" y2="317.00" stroke="#ff8000" stroke-width="1.0" />
<line x1="99.40" y1="297.70" x2="99.40" y2="314.20" stroke="#ff8000" stroke-width="1.0" />
<line x1="97.20" y1="297.70" x2="101.60" y2="297.70" stroke="#ff8000" stroke-width="1.0" />
<line x1="97.20" y1="314.20" x2="101.60" y2="314.20" stroke="#ff8000" stroke-width="1.0" />
<line x1="134.40" y1="283.50" x2="134.40" y2="297.00" stroke="#ff8000" stroke-width="1.0" />
<line x1="132.20" y1="283.50" x2="136.60" y2="283.50" stroke="#ff8000" stroke-width="1.0" />
<line x1="132.20" y1="297.00" x2="136.60" y2="297.00" stroke="#ff8000" stroke-width="1.0" />
<line x1="169.90" y1="270.00" x2="169.90" y2="279.00" stroke="#ff8000" stroke-width="1.0" />
<line x1="167.70" y1="270.00" x2="172.10" y2="270.00" stroke="#ff8000" stroke-width="1.0" />
<line x1="167.70" y1="279.00" x2="172.10" y2="279.00" stroke="#ff8000" stroke-width="1.0" />
<line x1="205.50" y1="267.00" x2="205.50" y2="276.00" stroke="#ff8000" stroke-width="1.0" />
<line x1="203.30" y1="267.00" x2="207.70" y2="267.00" stroke="#ff8000" stroke-width="1.0" />
<line x1="203.30" y1="276.00" x2="207.70" y2="276.00" stroke="#ff8000" stroke-width="1.0" />
<line x1="241.20" y1="260.00" x2="241.20" y2="268.00" stroke="#ff8000" stroke-width="1.0" />
<line x1="239.00" y1="260.00" x2="243.40" y2="260.00" stroke="#ff8000" stroke-width="1.0" />
<line x1="239.00" y1="268.00" x2="243.40" y2="268.00" stroke="#ff8000" stroke-width="1.0" />
<circle cx="64.20" cy="308.80" r="3.00" fill="#fff" stroke="#ff8000" stroke-width="1.1"/>
<circle cx="99.40" cy="305.00" r="3.00" fill="#fff" stroke="#ff8000" stroke-width="1.1"/>
<circle cx="134.40" cy="289.60" r="3.00" fill="#fff" stroke="#ff8000" stroke-width="1.1"/>
<circle cx="169.90" cy="274.50" r="3.00" fill="#fff" stroke="#ff8000" stroke-width="1.1"/>
<circle cx="205.50" cy="271.20" r="3.00" fill="#fff" stroke="#ff8000" stroke-width="1.1"/>
<circle cx="241.20" cy="264.00" r="3.00" fill="#fff" stroke="#ff8000" stroke-width="1.1"/>
<polyline points="60.90,343.90 91.60,345.50 121.30,332.30 151.00,327.40 180.80,320.80 210.50,309.20 240.20,302.60" fill="none" stroke="#00ffff" stroke-width="1.1" stroke-dasharray="1.3 3.9"/>
<line x1="60.90" y1="338.00" x2="60.90" y2="348.00" stroke="#00ffff" stroke-width="1.0" />
<line x1="58.70" y1="338.00" x2="63.10" y2="338.00" stroke="#00ffff" stroke-width="1.0" />
<line x1="58.70" y1="348.00" x2="63.10" y2="348.00" stroke="#00ffff" stroke-width="1.0" />
<line x1="91.60" y1="339.00" x2="91.60" y2="352.00" stroke="#00ffff" stroke-width="1.0" />
<line x1="89.40" y1="339.00" x2="93.80" y2="339.00" stroke="#00ffff" stroke-width="1.0" />
<line x1="89.40" y1="352.00" x2="93.80" y2="352.00" stroke="#00ffff" stroke-width="1.0" />
<line x1="121.30" y1="327.00" x2="121.30" y2="337.00" stroke="#00ffff" stroke-width="1.0" />
<line x1="119.10" y1="327.00" x2="123.50" y2="327.00" stroke="#00ffff" stroke-width="1.0" />
<line x1="119.10" y1="337.00" x2="123.50" y2="337.00" stroke="#00ffff" stroke-width="1.0" />
<line x1="151.00" y1="322.00" x2="151.00" y2="332.00" stroke="#00ffff" stroke-width="1.0" />
<line x1="148.80" y1="322.00" x2="153.20" y2="322.00" stroke="#00ffff" stroke-width="1.0" />
<line x1="148.80" y1="332.00" x2="153.20" y2="332.00" stroke="#00ffff" stroke-width="1.0" />
<line x1="180.80" y1="316.00" x2="180.80" y2="325.00" stroke="#00ffff" stroke-width="1.0" />
<line x1="178.60" y1="316.00" x2="183.00" y2="316.00" stroke="#00ffff" stroke-width="1.0" />
<line x1="178.60" y1="325.00" x2="183.00" y2="325.00" stroke="#00ffff" stroke-width="1.0" />
<line x1="210.50" y1="303.10" x2="210.50" y2="314.20" stroke="#00ffff" stroke-width="1.0" />
<line x1="208.30" y1="303.10" x2="212.70" y2="303.10" stroke="#00ffff" stroke-width="1.0" />
<line x1="208.30" y1="314.20" x2="212.70" y2="314.20" stroke="#00ffff" stroke-width="1.0" />
<line x1="240.20" y1="296.70" x2="240.20" y2="307.10" stroke="#00ffff" stroke-width="1.0" />
<line x1="238.00" y1="296.70" x2="242.40" y2="296.70" stroke="#00ffff" stroke-width="1.0" />
<line x1="238.00" y1="307.10" x2="242.40" y2="307.10" stroke="#00ffff" stroke-width="1.0" />
<polygon points="60.90,347.10 64.35,340.70 57.45,340.70" fill="#fff" stroke="#00ffff" stroke-width="1.1" stroke-linejoin="miter"/>
<polygon points="91.60,348.70 95.05,342.30 88.15,342.30" fill="#fff" stroke="#00ffff" stroke-width="1.1" stroke-linejoin="miter"/>
<polygon points="121.30,335.50 124.75,329.10 117.85,329.10" fill="#fff" stroke="#00ffff" stroke-width="1.1" stroke-linejoin="miter"/>
<polygon points="151.00,330.60 154.45,324.20 147.55,324.20" fill="#fff" stroke="#00ffff" stroke-width="1.1" stroke-linejoin="miter"/>
<polygon points="180.80,324.00 184.25,317.60 177.35,317.60" fill="#fff" stroke="#00ffff" stroke-width="1.1" stroke-linejoin="miter"/>
<polygon points="210.50,312.40 213.95,306.00 207.05,306.00" fill="#fff" stroke="#00ffff" stroke-width="1.1" stroke-linejoin="miter"/>
<polygon points="240.20,305.80 243.65,299.40 236.75,299.40" fill="#fff" stroke="#00ffff" stroke-width="1.1" stroke-linejoin="miter"/>
<polyline points="61.90,330.00 93.30,321.40 124.90,315.20 156.60,304.30 188.00,296.00 219.40,287.10 251.10,277.20" fill="none" stroke="#008000" stroke-width="1.1" stroke-dasharray="1.3 3.9"/>
<line x1="61.90" y1="322.00" x2="61.90" y2="338.00" stroke="#008000" stroke-width="1.0" />
<line x1="59.70" y1="322.00" x2="64.10" y2="322.00" stroke="#008000" stroke-width="1.0" />
<line x1="59.70" y1="338.00" x2="64.10" y2="338.00" stroke="#008000" stroke-width="1.0" />
<line x1="93.30" y1="316.00" x2="93.30" y2="327.00" stroke="#008000" stroke-width="1.0" />
<line x1="91.10" y1="316.00" x2="95.50" y2="316.00" stroke="#008000" stroke-width="1.0" />
<line x1="91.10" y1="327.00" x2="95.50" y2="327.00" stroke="#008000" stroke-width="1.0" />
<line x1="124.90" y1="310.50" x2="124.90" y2="321.80" stroke="#008000" stroke-width="1.0" />
<line x1="122.70" y1="310.50" x2="127.10" y2="310.50" stroke="#008000" stroke-width="1.0" />
<line x1="122.70" y1="321.80" x2="127.10" y2="321.80" stroke="#008000" stroke-width="1.0" />
<line x1="156.60" y1="299.50" x2="156.60" y2="312.20" stroke="#008000" stroke-width="1.0" />
<line x1="154.40" y1="299.50" x2="158.80" y2="299.50" stroke="#008000" stroke-width="1.0" />
<line x1="154.40" y1="312.20" x2="158.80" y2="312.20" stroke="#008000" stroke-width="1.0" />
<line x1="188.00" y1="291.50" x2="188.00" y2="302.70" stroke="#008000" stroke-width="1.0" />
<line x1="185.80" y1="291.50" x2="190.20" y2="291.50" stroke="#008000" stroke-width="1.0" />
<line x1="185.80" y1="302.70" x2="190.20" y2="302.70" stroke="#008000" stroke-width="1.0" />
<line x1="219.40" y1="283.10" x2="219.40" y2="293.10" stroke="#008000" stroke-width="1.0" />
<line x1="217.20" y1="283.10" x2="221.60" y2="283.10" stroke="#008000" stroke-width="1.0" />
<line x1="217.20" y1="293.10" x2="221.60" y2="293.10" stroke="#008000" stroke-width="1.0" />
<line x1="251.10" y1="273.50" x2="251.10" y2="282.10" stroke="#008000" stroke-width="1.0" />
<line x1="248.90" y1="273.50" x2="253.30" y2="273.50" stroke="#008000" stroke-width="1.0" />
<line x1="248.90" y1="282.10" x2="253.30" y2="282.10" stroke="#008000" stroke-width="1.0" />
<polygon points="61.90,326.80 65.35,333.20 58.45,333.20" fill="#fff" stroke="#008000" stroke-width="1.1" stroke-linejoin="miter"/>
<polygon points="93.30,318.20 96.75,324.60 89.85,324.60" fill="#fff" stroke="#008000" stroke-width="1.1" stroke-linejoin="miter"/>
<polygon points="124.90,312.00 128.35,318.40 121.45,318.40" fill="#fff" stroke="#008000" stroke-width="1.1" stroke-linejoin="miter"/>
<polygon points="156.60,301.10 160.05,307.50 153.15,307.50" fill="#fff" stroke="#008000" stroke-width="1.1" stroke-linejoin="miter"/>
<polygon points="188.00,292.80 191.45,299.20 184.55,299.20" fill="#fff" stroke="#008000" stroke-width="1.1" stroke-linejoin="miter"/>
<polygon points="219.40,283.90 222.85,290.30 215.95,290.30" fill="#fff" stroke="#008000" stroke-width="1.1" stroke-linejoin="miter"/>
<polygon points="251.10,274.00 254.55,280.40 247.65,280.40" fill="#fff" stroke="#008000" stroke-width="1.1" stroke-linejoin="miter"/>
<polyline points="280.60,267.40 323.00,276.40 365.40,259.80 408.30,271.20 449.80,252.80" fill="none" stroke="#ff0000" stroke-width="1.1" />
<line x1="280.60" y1="259.30" x2="280.60" y2="277.70" stroke="#ff0000" stroke-width="1.0" />
<line x1="278.40" y1="259.30" x2="282.80" y2="259.30" stroke="#ff0000" stroke-width="1.0" />
<line x1="278.40" y1="277.70" x2="282.80" y2="277.70" stroke="#ff0000" stroke-width="1.0" />
<line x1="323.00" y1="268.00" x2="323.00" y2="286.40" stroke="#ff0000" stroke-width="1.0" />
<line x1="320.80" y1="268.00" x2="325.20" y2="268.00" stroke="#ff0000" stroke-width="1.0" />
<line x1="320.80" y1="286.40" x2="325.20" y2="286.40" stroke="#ff0000" stroke-width="1.0" />
<line x1="365.40" y1="252.10" x2="365.40" y2="268.20" stroke="#ff0000" stroke-width="1.0" />
<line x1="363.20" y1="252.10" x2="367.60" y2="252.10" stroke="#ff0000" stroke-width="1.0" />
<line x1="363.20" y1="268.20" x2="367.60" y2="268.20" stroke="#ff0000" stroke-width="1.0" />
<line x1="408.30" y1="261.00" x2="408.30" y2="284.00" stroke="#ff0000" stroke-width="1.0" />
<line x1="406.10" y1="261.00" x2="410.50" y2="261.00" stroke="#ff0000" stroke-width="1.0" />
<line x1="406.10" y1="284.00" x2="410.50" y2="284.00" stroke="#ff0000" stroke-width="1.0" />
<line x1="449.80" y1="246.40" x2="449.80" y2="260.10" stroke="#ff0000" stroke-width="1.0" />
<line x1="447.60" y1="246.40" x2="452.00" y2="246.40" stroke="#ff0000" stroke-width="1.0" />
<line x1="447.60" y1="260.10" x2="452.00" y2="260.10" stroke="#ff0000" stroke-width="1.0" />
<rect x="277.75" y="264.55" width="5.70" height="5.70" fill="#ff0000" stroke="#ff0000" stroke-width="0.4"/>
<rect x="320.15" y="273.55" width="5.70" height="5.70" fill="#ff0000" stroke="#ff0000" stroke-width="0.4"/>
<rect x="362.55" y="256.95" width="5.70" height="5.70" fill="#ff0000" stroke="#ff0000" stroke-width="0.4"/>
<rect x="405.45" y="268.35" width="5.70" height="5.70" fill="#ff0000" stroke="#ff0000" stroke-width="0.4"/>
<rect x="446.95" y="249.95" width="5.70" height="5.70" fill="#ff0000" stroke="#ff0000" stroke-width="0.4"/>
<polyline points="276.20,266.30 312.40,266.00 347.50,271.20 383.20,266.10 418.80,264.30 454.40,252.40" fill="none" stroke="#ff8000" stroke-width="1.1" />
<line x1="276.20" y1="258.00" x2="276.20" y2="276.00" stroke="#ff8000" stroke-width="1.0" />
<line x1="274.00" y1="258.00" x2="278.40" y2="258.00" stroke="#ff8000" stroke-width="1.0" />
<line x1="274.00" y1="276.00" x2="278.40" y2="276.00" stroke="#ff8000" stroke-width="1.0" />
<line x1="312.40" y1="256.40" x2="312.40" y2="277.70" stroke="#ff8000" stroke-width="1.0" />
<line x1="310.20" y1="256.40" x2="314.60" y2="256.40" stroke="#ff8000" stroke-width="1.0" />
<line x1="310.20" y1="277.70" x2="314.60" y2="277.70" stroke="#ff8000" stroke-width="1.0" />
<line x1="347.50" y1="261.00" x2="347.50" y2="283.00" stroke="#ff8000" stroke-width="1.0" />
<line x1="345.30" y1="261.00" x2="349.70" y2="261.00" stroke="#ff8000" stroke-width="1.0" />
<line x1="345.30" y1="283.00" x2="349.70" y2="283.00" stroke="#ff8000" stroke-width="1.0" />
<line x1="383.20" y1="257.10" x2="383.20" y2="277.30" stroke="#ff8000" stroke-width="1.0" />
<line x1="381.00" y1="257.10" x2="385.40" y2="257.10" stroke="#ff8000" stroke-width="1.0" />
<line x1="381.00" y1="277.30" x2="385.40" y2="277.30" stroke="#ff8000" stroke-width="1.0" />
<line x1="418.80" y1="255.40" x2="418.80" y2="274.90" stroke="#ff8000" stroke-width="1.0" />
<line x1="416.60" y1="255.40" x2="421.00" y2="255.40" stroke="#ff8000" stroke-width="1.0" />
<line x1="416.60" y1="274.90" x2="421.00" y2="274.90" stroke="#ff8000" stroke-width="1.0" />
<line x1="454.40" y1="242.00" x2="454.40" y2="266.00" stroke="#ff8000" stroke-width="1.0" />
<line x1="452.20" y1="242.00" x2="456.60" y2="242.00" stroke="#ff8000" stroke-width="1.0" />
<line x1="452.20" y1="266.00" x2="456.60" y2="266.00" stroke="#ff8000" stroke-width="1.0" />
<circle cx="276.20" cy="266.30" r="3.30" fill="#ff8000"/>
<circle cx="312.40" cy="266.00" r="3.30" fill="#ff8000"/>
<circle cx="347.50" cy="271.20" r="3.30" fill="#ff8000"/>
<circle cx="383.20" cy="266.10" r="3.30" fill="#ff8000"/>
<circle cx="418.80" cy="264.30" r="3.30" fill="#ff8000"/>
<circle cx="454.40" cy="252.40" r="3.30" fill="#ff8000"/>
<polyline points="273.90,293.70 304.20,310.90 334.00,328.00 363.70,297.00 393.40,305.90 423.50,301.60 453.20,289.40" fill="none" stroke="#00ffff" stroke-width="1.1" />
<line x1="273.90" y1="284.40" x2="273.90" y2="305.90" stroke="#00ffff" stroke-width="1.0" />
<line x1="271.70" y1="284.40" x2="276.10" y2="284.40" stroke="#00ffff" stroke-width="1.0" />
<line x1="271.70" y1="305.90" x2="276.10" y2="305.90" stroke="#00ffff" stroke-width="1.0" />
<line x1="304.20" y1="299.30" x2="304.20" y2="324.10" stroke="#00ffff" stroke-width="1.0" />
<line x1="302.00" y1="299.30" x2="306.40" y2="299.30" stroke="#00ffff" stroke-width="1.0" />
<line x1="302.00" y1="324.10" x2="306.40" y2="324.10" stroke="#00ffff" stroke-width="1.0" />
<line x1="334.00" y1="314.20" x2="334.00" y2="347.20" stroke="#00ffff" stroke-width="1.0" />
<line x1="331.80" y1="314.20" x2="336.20" y2="314.20" stroke="#00ffff" stroke-width="1.0" />
<line x1="331.80" y1="347.20" x2="336.20" y2="347.20" stroke="#00ffff" stroke-width="1.0" />
<line x1="363.70" y1="291.00" x2="363.70" y2="299.30" stroke="#00ffff" stroke-width="1.0" />
<line x1="361.50" y1="291.00" x2="365.90" y2="291.00" stroke="#00ffff" stroke-width="1.0" />
<line x1="361.50" y1="299.30" x2="365.90" y2="299.30" stroke="#00ffff" stroke-width="1.0" />
<line x1="393.40" y1="300.30" x2="393.40" y2="310.90" stroke="#00ffff" stroke-width="1.0" />
<line x1="391.20" y1="300.30" x2="395.60" y2="300.30" stroke="#00ffff" stroke-width="1.0" />
<line x1="391.20" y1="310.90" x2="395.60" y2="310.90" stroke="#00ffff" stroke-width="1.0" />
<line x1="423.50" y1="295.00" x2="423.50" y2="305.90" stroke="#00ffff" stroke-width="1.0" />
<line x1="421.30" y1="295.00" x2="425.70" y2="295.00" stroke="#00ffff" stroke-width="1.0" />
<line x1="421.30" y1="305.90" x2="425.70" y2="305.90" stroke="#00ffff" stroke-width="1.0" />
<line x1="453.20" y1="284.40" x2="453.20" y2="292.70" stroke="#00ffff" stroke-width="1.0" />
<line x1="451.00" y1="284.40" x2="455.40" y2="284.40" stroke="#00ffff" stroke-width="1.0" />
<line x1="451.00" y1="292.70" x2="455.40" y2="292.70" stroke="#00ffff" stroke-width="1.0" />
<polygon points="273.90,297.20 277.80,290.20 270.00,290.20" fill="#00ffff" stroke="#00ffff" stroke-width="0.4"/>
<polygon points="304.20,314.40 308.10,307.40 300.30,307.40" fill="#00ffff" stroke="#00ffff" stroke-width="0.4"/>
<polygon points="334.00,331.50 337.90,324.50 330.10,324.50" fill="#00ffff" stroke="#00ffff" stroke-width="0.4"/>
<polygon points="363.70,300.50 367.60,293.50 359.80,293.50" fill="#00ffff" stroke="#00ffff" stroke-width="0.4"/>
<polygon points="393.40,309.40 397.30,302.40 389.50,302.40" fill="#00ffff" stroke="#00ffff" stroke-width="0.4"/>
<polygon points="423.50,305.10 427.40,298.10 419.60,298.10" fill="#00ffff" stroke="#00ffff" stroke-width="0.4"/>
<polygon points="453.20,292.90 457.10,285.90 449.30,285.90" fill="#00ffff" stroke="#00ffff" stroke-width="0.4"/>
<polyline points="274.90,266.30 306.60,278.50 338.10,273.10 369.60,272.90 401.10,269.80 432.40,264.00 463.80,256.40" fill="none" stroke="#008000" stroke-width="1.1" />
<line x1="274.90" y1="256.00" x2="274.90" y2="280.00" stroke="#008000" stroke-width="1.0" />
<line x1="272.70" y1="256.00" x2="277.10" y2="256.00" stroke="#008000" stroke-width="1.0" />
<line x1="272.70" y1="280.00" x2="277.10" y2="280.00" stroke="#008000" stroke-width="1.0" />
<line x1="306.60" y1="272.40" x2="306.60" y2="287.40" stroke="#008000" stroke-width="1.0" />
<line x1="304.40" y1="272.40" x2="308.80" y2="272.40" stroke="#008000" stroke-width="1.0" />
<line x1="304.40" y1="287.40" x2="308.80" y2="287.40" stroke="#008000" stroke-width="1.0" />
<line x1="338.10" y1="267.40" x2="338.10" y2="281.60" stroke="#008000" stroke-width="1.0" />
<line x1="335.90" y1="267.40" x2="340.30" y2="267.40" stroke="#008000" stroke-width="1.0" />
<line x1="335.90" y1="281.60" x2="340.30" y2="281.60" stroke="#008000" stroke-width="1.0" />
<line x1="369.60" y1="264.00" x2="369.60" y2="284.00" stroke="#008000" stroke-width="1.0" />
<line x1="367.40" y1="264.00" x2="371.80" y2="264.00" stroke="#008000" stroke-width="1.0" />
<line x1="367.40" y1="284.00" x2="371.80" y2="284.00" stroke="#008000" stroke-width="1.0" />
<line x1="401.10" y1="260.50" x2="401.10" y2="283.30" stroke="#008000" stroke-width="1.0" />
<line x1="398.90" y1="260.50" x2="403.30" y2="260.50" stroke="#008000" stroke-width="1.0" />
<line x1="398.90" y1="283.30" x2="403.30" y2="283.30" stroke="#008000" stroke-width="1.0" />
<line x1="432.40" y1="256.00" x2="432.40" y2="276.00" stroke="#008000" stroke-width="1.0" />
<line x1="430.20" y1="256.00" x2="434.60" y2="256.00" stroke="#008000" stroke-width="1.0" />
<line x1="430.20" y1="276.00" x2="434.60" y2="276.00" stroke="#008000" stroke-width="1.0" />
<line x1="463.80" y1="249.00" x2="463.80" y2="268.00" stroke="#008000" stroke-width="1.0" />
<line x1="461.60" y1="249.00" x2="466.00" y2="249.00" stroke="#008000" stroke-width="1.0" />
<line x1="461.60" y1="268.00" x2="466.00" y2="268.00" stroke="#008000" stroke-width="1.0" />
<polygon points="274.90,262.80 278.80,269.80 271.00,269.80" fill="#008000" stroke="#008000" stroke-width="0.4"/>
<polygon points="306.60,275.00 310.50,282.00 302.70,282.00" fill="#008000" stroke="#008000" stroke-width="0.4"/>
<polygon points="338.10,269.60 342.00,276.60 334.20,276.60" fill="#008000" stroke="#008000" stroke-width="0.4"/>
<polygon points="369.60,269.40 373.50,276.40 365.70,276.40" fill="#008000" stroke="#008000" stroke-width="0.4"/>
<polygon points="401.10,266.30 405.00,273.30 397.20,273.30" fill="#008000" stroke="#008000" stroke-width="0.4"/>
<polygon points="432.40,260.50 436.30,267.50 428.50,267.50" fill="#008000" stroke="#008000" stroke-width="0.4"/>
<polygon points="463.80,252.90 467.70,259.90 459.90,259.90" fill="#008000" stroke="#008000" stroke-width="0.4"/>
<polyline points="493.10,242.20 535.70,236.20 578.30,236.20 620.60,232.20 663.20,223.80" fill="none" stroke="#ff0000" stroke-width="1.1" stroke-dasharray="4.6 3.4"/>
<line x1="493.10" y1="236.30" x2="493.10" y2="249.10" stroke="#ff0000" stroke-width="1.0" />
<line x1="491.30" y1="236.30" x2="494.90" y2="236.30" stroke="#ff0000" stroke-width="1.0" />
<line x1="491.30" y1="249.10" x2="494.90" y2="249.10" stroke="#ff0000" stroke-width="1.0" />
<line x1="535.70" y1="231.00" x2="535.70" y2="241.00" stroke="#ff0000" stroke-width="1.0" />
<line x1="533.90" y1="231.00" x2="537.50" y2="231.00" stroke="#ff0000" stroke-width="1.0" />
<line x1="533.90" y1="241.00" x2="537.50" y2="241.00" stroke="#ff0000" stroke-width="1.0" />
<line x1="578.30" y1="231.00" x2="578.30" y2="241.00" stroke="#ff0000" stroke-width="1.0" />
<line x1="576.50" y1="231.00" x2="580.10" y2="231.00" stroke="#ff0000" stroke-width="1.0" />
<line x1="576.50" y1="241.00" x2="580.10" y2="241.00" stroke="#ff0000" stroke-width="1.0" />
<line x1="620.60" y1="228.00" x2="620.60" y2="236.00" stroke="#ff0000" stroke-width="1.0" />
<line x1="618.80" y1="228.00" x2="622.40" y2="228.00" stroke="#ff0000" stroke-width="1.0" />
<line x1="618.80" y1="236.00" x2="622.40" y2="236.00" stroke="#ff0000" stroke-width="1.0" />
<line x1="663.20" y1="219.50" x2="663.20" y2="228.00" stroke="#ff0000" stroke-width="1.0" />
<line x1="661.40" y1="219.50" x2="665.00" y2="219.50" stroke="#ff0000" stroke-width="1.0" />
<line x1="661.40" y1="228.00" x2="665.00" y2="228.00" stroke="#ff0000" stroke-width="1.0" />
<rect x="490.25" y="239.35" width="5.70" height="5.70" fill="#ff0000" stroke="#ff0000" stroke-width="0.4"/>
<rect x="491.39" y="240.43" width="3.42" height="1.08" fill="#fff"/>
<rect x="532.85" y="233.35" width="5.70" height="5.70" fill="#ff0000" stroke="#ff0000" stroke-width="0.4"/>
<rect x="533.99" y="234.43" width="3.42" height="1.08" fill="#fff"/>
<rect x="575.45" y="233.35" width="5.70" height="5.70" fill="#ff0000" stroke="#ff0000" stroke-width="0.4"/>
<rect x="576.59" y="234.43" width="3.42" height="1.08" fill="#fff"/>
<rect x="617.75" y="229.35" width="5.70" height="5.70" fill="#ff0000" stroke="#ff0000" stroke-width="0.4"/>
<rect x="618.89" y="230.43" width="3.42" height="1.08" fill="#fff"/>
<rect x="660.35" y="220.95" width="5.70" height="5.70" fill="#ff0000" stroke="#ff0000" stroke-width="0.4"/>
<rect x="661.49" y="222.03" width="3.42" height="1.08" fill="#fff"/>
<polyline points="489.70,266.60 525.00,263.00 560.50,256.50 595.80,250.80 631.20,242.70 667.00,239.90" fill="none" stroke="#ff8000" stroke-width="1.1" stroke-dasharray="4.6 3.4"/>
<line x1="489.70" y1="259.40" x2="489.70" y2="275.50" stroke="#ff8000" stroke-width="1.0" />
<line x1="487.90" y1="259.40" x2="491.50" y2="259.40" stroke="#ff8000" stroke-width="1.0" />
<line x1="487.90" y1="275.50" x2="491.50" y2="275.50" stroke="#ff8000" stroke-width="1.0" />
<line x1="525.00" y1="256.50" x2="525.00" y2="270.60" stroke="#ff8000" stroke-width="1.0" />
<line x1="523.20" y1="256.50" x2="526.80" y2="256.50" stroke="#ff8000" stroke-width="1.0" />
<line x1="523.20" y1="270.60" x2="526.80" y2="270.60" stroke="#ff8000" stroke-width="1.0" />
<line x1="560.50" y1="251.30" x2="560.50" y2="262.50" stroke="#ff8000" stroke-width="1.0" />
<line x1="558.70" y1="251.30" x2="562.30" y2="251.30" stroke="#ff8000" stroke-width="1.0" />
<line x1="558.70" y1="262.50" x2="562.30" y2="262.50" stroke="#ff8000" stroke-width="1.0" />
<line x1="595.80" y1="246.00" x2="595.80" y2="256.00" stroke="#ff8000" stroke-width="1.0" />
<line x1="594.00" y1="246.00" x2="597.60" y2="246.00" stroke="#ff8000" stroke-width="1.0" />
<line x1="594.00" y1="256.00" x2="597.60" y2="256.00" stroke="#ff8000" stroke-width="1.0" />
<line x1="631.20" y1="239.00" x2="631.20" y2="246.00" stroke="#ff8000" stroke-width="1.0" />
<line x1="629.40" y1="239.00" x2="633.00" y2="239.00" stroke="#ff8000" stroke-width="1.0" />
<line x1="629.40" y1="246.00" x2="633.00" y2="246.00" stroke="#ff8000" stroke-width="1.0" />
<line x1="667.00" y1="235.00" x2="667.00" y2="244.00" stroke="#ff8000" stroke-width="1.0" />
<line x1="665.20" y1="235.00" x2="668.80" y2="235.00" stroke="#ff8000" stroke-width="1.0" />
<line x1="665.20" y1="244.00" x2="668.80" y2="244.00" stroke="#ff8000" stroke-width="1.0" />
<rect x="486.85" y="263.75" width="5.70" height="5.70" fill="#ff8000" stroke="#ff8000" stroke-width="0.4"/>
<rect x="487.99" y="264.83" width="3.42" height="1.08" fill="#fff"/>
<rect x="522.15" y="260.15" width="5.70" height="5.70" fill="#ff8000" stroke="#ff8000" stroke-width="0.4"/>
<rect x="523.29" y="261.23" width="3.42" height="1.08" fill="#fff"/>
<rect x="557.65" y="253.65" width="5.70" height="5.70" fill="#ff8000" stroke="#ff8000" stroke-width="0.4"/>
<rect x="558.79" y="254.73" width="3.42" height="1.08" fill="#fff"/>
<rect x="592.95" y="247.95" width="5.70" height="5.70" fill="#ff8000" stroke="#ff8000" stroke-width="0.4"/>
<rect x="594.09" y="249.03" width="3.42" height="1.08" fill="#fff"/>
<rect x="628.35" y="239.85" width="5.70" height="5.70" fill="#ff8000" stroke="#ff8000" stroke-width="0.4"/>
<rect x="629.49" y="240.93" width="3.42" height="1.08" fill="#fff"/>
<rect x="664.15" y="237.05" width="5.70" height="5.70" fill="#ff8000" stroke="#ff8000" stroke-width="0.4"/>
<rect x="665.29" y="238.13" width="3.42" height="1.08" fill="#fff"/>
<polyline points="486.90,303.30 516.60,293.70 546.40,301.00 576.50,285.20 606.30,280.90 636.20,279.30 665.70,274.70" fill="none" stroke="#00ffff" stroke-width="1.1" stroke-dasharray="4.6 3.4"/>
<line x1="486.90" y1="296.00" x2="486.90" y2="310.00" stroke="#00ffff" stroke-width="1.0" />
<line x1="485.10" y1="296.00" x2="488.70" y2="296.00" stroke="#00ffff" stroke-width="1.0" />
<line x1="485.10" y1="310.00" x2="488.70" y2="310.00" stroke="#00ffff" stroke-width="1.0" />
<line x1="516.60" y1="287.00" x2="516.60" y2="301.00" stroke="#00ffff" stroke-width="1.0" />
<line x1="514.80" y1="287.00" x2="518.40" y2="287.00" stroke="#00ffff" stroke-width="1.0" />
<line x1="514.80" y1="301.00" x2="518.40" y2="301.00" stroke="#00ffff" stroke-width="1.0" />
<line x1="546.40" y1="293.00" x2="546.40" y2="310.00" stroke="#00ffff" stroke-width="1.0" />
<line x1="544.60" y1="293.00" x2="548.20" y2="293.00" stroke="#00ffff" stroke-width="1.0" />
<line x1="544.60" y1="310.00" x2="548.20" y2="310.00" stroke="#00ffff" stroke-width="1.0" />
<line x1="576.50" y1="279.00" x2="576.50" y2="291.00" stroke="#00ffff" stroke-width="1.0" />
<line x1="574.70" y1="279.00" x2="578.30" y2="279.00" stroke="#00ffff" stroke-width="1.0" />
<line x1="574.70" y1="291.00" x2="578.30" y2="291.00" stroke="#00ffff" stroke-width="1.0" />
<line x1="606.30" y1="276.00" x2="606.30" y2="286.00" stroke="#00ffff" stroke-width="1.0" />
<line x1="604.50" y1="276.00" x2="608.10" y2="276.00" stroke="#00ffff" stroke-width="1.0" />
<line x1="604.50" y1="286.00" x2="608.10" y2="286.00" stroke="#00ffff" stroke-width="1.0" />
<line x1="636.20" y1="275.00" x2="636.20" y2="284.00" stroke="#00ffff" stroke-width="1.0" />
<line x1="634.40" y1="275.00" x2="638.00" y2="275.00" stroke="#00ffff" stroke-width="1.0" />
<line x1="634.40" y1="284.00" x2="638.00" y2="284.00" stroke="#00ffff" stroke-width="1.0" />
<line x1="665.70" y1="270.00" x2="665.70" y2="279.00" stroke="#00ffff" stroke-width="1.0" />
<line x1="663.90" y1="270.00" x2="667.50" y2="270.00" stroke="#00ffff" stroke-width="1.0" />
<line x1="663.90" y1="279.00" x2="667.50" y2="279.00" stroke="#00ffff" stroke-width="1.0" />
<rect x="484.05" y="300.45" width="5.70" height="5.70" fill="#00ffff" stroke="#00ffff" stroke-width="0.4"/>
<rect x="485.19" y="301.53" width="3.42" height="1.08" fill="#fff"/>
<rect x="513.75" y="290.85" width="5.70" height="5.70" fill="#00ffff" stroke="#00ffff" stroke-width="0.4"/>
<rect x="514.89" y="291.93" width="3.42" height="1.08" fill="#fff"/>
<rect x="543.55" y="298.15" width="5.70" height="5.70" fill="#00ffff" stroke="#00ffff" stroke-width="0.4"/>
<rect x="544.69" y="299.23" width="3.42" height="1.08" fill="#fff"/>
<rect x="573.65" y="282.35" width="5.70" height="5.70" fill="#00ffff" stroke="#00ffff" stroke-width="0.4"/>
<rect x="574.79" y="283.43" width="3.42" height="1.08" fill="#fff"/>
<rect x="603.45" y="278.05" width="5.70" height="5.70" fill="#00ffff" stroke="#00ffff" stroke-width="0.4"/>
<rect x="604.59" y="279.13" width="3.42" height="1.08" fill="#fff"/>
<rect x="633.35" y="276.45" width="5.70" height="5.70" fill="#00ffff" stroke="#00ffff" stroke-width="0.4"/>
<rect x="634.49" y="277.53" width="3.42" height="1.08" fill="#fff"/>
<rect x="662.85" y="271.85" width="5.70" height="5.70" fill="#00ffff" stroke="#00ffff" stroke-width="0.4"/>
<rect x="663.99" y="272.93" width="3.42" height="1.08" fill="#fff"/>
<polyline points="488.20,282.20 519.30,278.80 550.70,282.20 582.10,272.60 613.80,265.10 645.20,263.60 676.60,254.20" fill="none" stroke="#008000" stroke-width="1.1" stroke-dasharray="4.6 3.4"/>
<line x1="488.20" y1="276.00" x2="488.20" y2="288.00" stroke="#008000" stroke-width="1.0" />
<line x1="486.40" y1="276.00" x2="490.00" y2="276.00" stroke="#008000" stroke-width="1.0" />
<line x1="486.40" y1="288.00" x2="490.00" y2="288.00" stroke="#008000" stroke-width="1.0" />
<line x1="519.30" y1="273.00" x2="519.30" y2="284.00" stroke="#008000" stroke-width="1.0" />
<line x1="517.50" y1="273.00" x2="521.10" y2="273.00" stroke="#008000" stroke-width="1.0" />
<line x1="517.50" y1="284.00" x2="521.10" y2="284.00" stroke="#008000" stroke-width="1.0" />
<line x1="550.70" y1="277.00" x2="550.70" y2="287.00" stroke="#008000" stroke-width="1.0" />
<line x1="548.90" y1="277.00" x2="552.50" y2="277.00" stroke="#008000" stroke-width="1.0" />
<line x1="548.90" y1="287.00" x2="552.50" y2="287.00" stroke="#008000" stroke-width="1.0" />
<line x1="582.10" y1="268.00" x2="582.10" y2="277.00" stroke="#008000" stroke-width="1.0" />
<line x1="580.30" y1="268.00" x2="583.90" y2="268.00" stroke="#008000" stroke-width="1.0" />
<line x1="580.30" y1="277.00" x2="583.90" y2="277.00" stroke="#008000" stroke-width="1.0" />
<line x1="613.80" y1="260.00" x2="613.80" y2="270.00" stroke="#008000" stroke-width="1.0" />
<line x1="612.00" y1="260.00" x2="615.60" y2="260.00" stroke="#008000" stroke-width="1.0" />
<line x1="612.00" y1="270.00" x2="615.60" y2="270.00" stroke="#008000" stroke-width="1.0" />
<line x1="645.20" y1="259.00" x2="645.20" y2="268.00" stroke="#008000" stroke-width="1.0" />
<line x1="643.40" y1="259.00" x2="647.00" y2="259.00" stroke="#008000" stroke-width="1.0" />
<line x1="643.40" y1="268.00" x2="647.00" y2="268.00" stroke="#008000" stroke-width="1.0" />
<line x1="676.60" y1="249.00" x2="676.60" y2="259.00" stroke="#008000" stroke-width="1.0" />
<line x1="674.80" y1="249.00" x2="678.40" y2="249.00" stroke="#008000" stroke-width="1.0" />
<line x1="674.80" y1="259.00" x2="678.40" y2="259.00" stroke="#008000" stroke-width="1.0" />
<rect x="485.35" y="279.35" width="5.70" height="5.70" fill="#008000" stroke="#008000" stroke-width="0.4"/>
<rect x="486.49" y="280.43" width="3.42" height="1.08" fill="#fff"/>
<rect x="516.45" y="275.95" width="5.70" height="5.70" fill="#008000" stroke="#008000" stroke-width="0.4"/>
<rect x="517.59" y="277.03" width="3.42" height="1.08" fill="#fff"/>
<rect x="547.85" y="279.35" width="5.70" height="5.70" fill="#008000" stroke="#008000" stroke-width="0.4"/>
<rect x="548.99" y="280.43" width="3.42" height="1.08" fill="#fff"/>
<rect x="579.25" y="269.75" width="5.70" height="5.70" fill="#008000" stroke="#008000" stroke-width="0.4"/>
<rect x="580.39" y="270.83" width="3.42" height="1.08" fill="#fff"/>
<rect x="610.95" y="262.25" width="5.70" height="5.70" fill="#008000" stroke="#008000" stroke-width="0.4"/>
<rect x="612.09" y="263.33" width="3.42" height="1.08" fill="#fff"/>
<rect x="642.35" y="260.75" width="5.70" height="5.70" fill="#008000" stroke="#008000" stroke-width="0.4"/>
<rect x="643.49" y="261.83" width="3.42" height="1.08" fill="#fff"/>
<rect x="673.75" y="251.35" width="5.70" height="5.70" fill="#008000" stroke="#008000" stroke-width="0.4"/>
<rect x="674.89" y="252.43" width="3.42" height="1.08" fill="#fff"/>
<line x1="650.4" y1="12.6" x2="654.4" y2="11.7" stroke="#fff" stroke-width="2.2"/>
<line x1="650.4" y1="12.6" x2="654.4" y2="11.7" stroke="#9a9a9a" stroke-width="1.1"/>
<line x1="653.2" y1="17.8" x2="657.2" y2="17.0" stroke="#fff" stroke-width="2.2"/>
<line x1="653.2" y1="17.8" x2="657.2" y2="17.0" stroke="#9a9a9a" stroke-width="1.1"/>
<line x1="651.4" y1="226.0" x2="655.4" y2="225.2" stroke="#fff" stroke-width="2.2"/>
<line x1="651.4" y1="226.0" x2="655.4" y2="225.2" stroke="#9a9a9a" stroke-width="1.1"/>
<line x1="653.7" y1="241.2" x2="657.7" y2="240.9" stroke="#fff" stroke-width="2.2"/>
<line x1="653.7" y1="241.2" x2="657.7" y2="240.9" stroke="#9a9a9a" stroke-width="1.1"/>
<line x1="669.0" y1="257.6" x2="673.2" y2="256.2" stroke="#fff" stroke-width="2.2"/>
<line x1="669.0" y1="257.6" x2="673.2" y2="256.2" stroke="#9a9a9a" stroke-width="1.1"/>
<rect x="162.60" y="98.2" width="96.90" height="77.80" fill="#fff" stroke="#888" stroke-width="1"/>
<line x1="184.25" y1="98.20" x2="184.25" y2="100.00" stroke="#777" stroke-width="0.8" />
<line x1="205.90" y1="98.20" x2="205.90" y2="100.00" stroke="#777" stroke-width="0.8" />
<line x1="227.55" y1="98.20" x2="227.55" y2="100.00" stroke="#777" stroke-width="0.8" />
<line x1="249.20" y1="98.20" x2="249.20" y2="100.00" stroke="#777" stroke-width="0.8" />
<text x="205.90" y="94.80" font-size="6.3" text-anchor="middle" font-weight="normal" fill="#111" >20</text>
<text x="249.20" y="94.80" font-size="6.3" text-anchor="middle" font-weight="normal" fill="#111" >40</text>
<line x1="161.30" y1="157.40" x2="162.60" y2="157.40" stroke="#777" stroke-width="0.7" />
<line x1="161.30" y1="151.75" x2="162.60" y2="151.75" stroke="#777" stroke-width="0.7" />
<line x1="161.30" y1="147.13" x2="162.60" y2="147.13" stroke="#777" stroke-width="0.7" />
<line x1="161.30" y1="143.23" x2="162.60" y2="143.23" stroke="#777" stroke-width="0.7" />
<line x1="161.30" y1="139.85" x2="162.60" y2="139.85" stroke="#777" stroke-width="0.7" />
<line x1="161.30" y1="136.87" x2="162.60" y2="136.87" stroke="#777" stroke-width="0.7" />
<line x1="161.30" y1="116.65" x2="162.60" y2="116.65" stroke="#777" stroke-width="0.7" />
<line x1="160.60" y1="134.20" x2="162.60" y2="134.20" stroke="#777" stroke-width="0.8" />
<text x="159.80" y="136.40" font-size="6.3" text-anchor="end" font-weight="normal" fill="#111" >1</text>
<line x1="160.60" y1="164.68" x2="162.60" y2="164.68" stroke="#777" stroke-width="0.8" />
<text x="159.80" y="166.88" font-size="6.3" text-anchor="end" font-weight="normal" fill="#111" >0.3</text>
<text x="166.00" y="108.60" font-size="11" text-anchor="start" font-weight="bold" fill="#000" >Time (s)</text>
<text transform="translate(149.00,140.8) rotate(-90)" font-size="9.6" font-weight="bold" text-anchor="middle">F<tspan font-size="7.7" dy="3">R</tspan><tspan dy="-3">/F</tspan><tspan font-size="7.7" dy="3">R,i</tspan></text>
<polyline points="171.50,134.10 191.30,134.10 210.50,124.60 229.60,118.50 249.40,112.20" fill="none" stroke="#ff0000" stroke-width="0.7" stroke-dasharray="0.9 1.8"/>
<line x1="171.50" y1="129.90" x2="171.50" y2="139.00" stroke="#ff0000" stroke-width="0.6" />
<line x1="170.50" y1="129.90" x2="172.50" y2="129.90" stroke="#ff0000" stroke-width="0.6" />
<line x1="170.50" y1="139.00" x2="172.50" y2="139.00" stroke="#ff0000" stroke-width="0.6" />
<line x1="191.30" y1="132.00" x2="191.30" y2="138.00" stroke="#ff0000" stroke-width="0.6" />
<line x1="190.30" y1="132.00" x2="192.30" y2="132.00" stroke="#ff0000" stroke-width="0.6" />
<line x1="190.30" y1="138.00" x2="192.30" y2="138.00" stroke="#ff0000" stroke-width="0.6" />
<line x1="210.50" y1="121.40" x2="210.50" y2="129.90" stroke="#ff0000" stroke-width="0.6" />
<line x1="209.50" y1="121.40" x2="211.50" y2="121.40" stroke="#ff0000" stroke-width="0.6" />
<line x1="209.50" y1="129.90" x2="211.50" y2="129.90" stroke="#ff0000" stroke-width="0.6" />
<line x1="229.60" y1="116.50" x2="229.60" y2="121.50" stroke="#ff0000" stroke-width="0.6" />
<line x1="228.60" y1="116.50" x2="230.60" y2="116.50" stroke="#ff0000" stroke-width="0.6" />
<line x1="228.60" y1="121.50" x2="230.60" y2="121.50" stroke="#ff0000" stroke-width="0.6" />
<line x1="249.40" y1="110.00" x2="249.40" y2="114.50" stroke="#ff0000" stroke-width="0.6" />
<line x1="248.40" y1="110.00" x2="250.40" y2="110.00" stroke="#ff0000" stroke-width="0.6" />
<line x1="248.40" y1="114.50" x2="250.40" y2="114.50" stroke="#ff0000" stroke-width="0.6" />
<rect x="170.20" y="132.80" width="2.60" height="2.60" fill="#fff" stroke="#ff0000" stroke-width="0.7"/>
<rect x="190.00" y="132.80" width="2.60" height="2.60" fill="#fff" stroke="#ff0000" stroke-width="0.7"/>
<rect x="209.20" y="123.30" width="2.60" height="2.60" fill="#fff" stroke="#ff0000" stroke-width="0.7"/>
<rect x="228.30" y="117.20" width="2.60" height="2.60" fill="#fff" stroke="#ff0000" stroke-width="0.7"/>
<rect x="248.10" y="110.90" width="2.60" height="2.60" fill="#fff" stroke="#ff0000" stroke-width="0.7"/>
<polyline points="169.80,134.10 186.40,134.10 202.40,124.20 218.50,115.00 234.50,112.90 250.80,106.80" fill="none" stroke="#ff8000" stroke-width="0.7" stroke-dasharray="0.9 1.8"/>
<line x1="169.80" y1="131.00" x2="169.80" y2="137.00" stroke="#ff8000" stroke-width="0.6" />
<line x1="168.80" y1="131.00" x2="170.80" y2="131.00" stroke="#ff8000" stroke-width="0.6" />
<line x1="168.80" y1="137.00" x2="170.80" y2="137.00" stroke="#ff8000" stroke-width="0.6" />
<line x1="186.40" y1="128.50" x2="186.40" y2="139.80" stroke="#ff8000" stroke-width="0.6" />
<line x1="185.40" y1="128.50" x2="187.40" y2="128.50" stroke="#ff8000" stroke-width="0.6" />
<line x1="185.40" y1="139.80" x2="187.40" y2="139.80" stroke="#ff8000" stroke-width="0.6" />
<line x1="202.40" y1="121.40" x2="202.40" y2="128.00" stroke="#ff8000" stroke-width="0.6" />
<line x1="201.40" y1="121.40" x2="203.40" y2="121.40" stroke="#ff8000" stroke-width="0.6" />
<line x1="201.40" y1="128.00" x2="203.40" y2="128.00" stroke="#ff8000" stroke-width="0.6" />
<line x1="218.50" y1="113.00" x2="218.50" y2="117.00" stroke="#ff8000" stroke-width="0.6" />
<line x1="217.50" y1="113.00" x2="219.50" y2="113.00" stroke="#ff8000" stroke-width="0.6" />
<line x1="217.50" y1="117.00" x2="219.50" y2="117.00" stroke="#ff8000" stroke-width="0.6" />
<line x1="234.50" y1="110.50" x2="234.50" y2="115.50" stroke="#ff8000" stroke-width="0.6" />
<line x1="233.50" y1="110.50" x2="235.50" y2="110.50" stroke="#ff8000" stroke-width="0.6" />
<line x1="233.50" y1="115.50" x2="235.50" y2="115.50" stroke="#ff8000" stroke-width="0.6" />
<line x1="250.80" y1="104.50" x2="250.80" y2="109.00" stroke="#ff8000" stroke-width="0.6" />
<line x1="249.80" y1="104.50" x2="251.80" y2="104.50" stroke="#ff8000" stroke-width="0.6" />
<line x1="249.80" y1="109.00" x2="251.80" y2="109.00" stroke="#ff8000" stroke-width="0.6" />
<circle cx="169.80" cy="134.10" r="1.50" fill="#fff" stroke="#ff8000" stroke-width="0.7"/>
<circle cx="186.40" cy="134.10" r="1.50" fill="#fff" stroke="#ff8000" stroke-width="0.7"/>
<circle cx="202.40" cy="124.20" r="1.50" fill="#fff" stroke="#ff8000" stroke-width="0.7"/>
<circle cx="218.50" cy="115.00" r="1.50" fill="#fff" stroke="#ff8000" stroke-width="0.7"/>
<circle cx="234.50" cy="112.90" r="1.50" fill="#fff" stroke="#ff8000" stroke-width="0.7"/>
<circle cx="250.80" cy="106.80" r="1.50" fill="#fff" stroke="#ff8000" stroke-width="0.7"/>
<polyline points="168.70,134.10 182.10,136.00 196.30,128.50 209.70,124.90 223.60,121.40 236.70,114.70 250.10,109.60" fill="none" stroke="#00ffff" stroke-width="0.7" stroke-dasharray="0.9 1.8"/>
<line x1="168.70" y1="129.90" x2="168.70" y2="139.00" stroke="#00ffff" stroke-width="0.6" />
<line x1="167.70" y1="129.90" x2="169.70" y2="129.90" stroke="#00ffff" stroke-width="0.6" />
<line x1="167.70" y1="139.00" x2="169.70" y2="139.00" stroke="#00ffff" stroke-width="0.6" />
<line x1="182.10" y1="132.70" x2="182.10" y2="141.20" stroke="#00ffff" stroke-width="0.6" />
<line x1="181.10" y1="132.70" x2="183.10" y2="132.70" stroke="#00ffff" stroke-width="0.6" />
<line x1="181.10" y1="141.20" x2="183.10" y2="141.20" stroke="#00ffff" stroke-width="0.6" />
<line x1="196.30" y1="126.00" x2="196.30" y2="131.00" stroke="#00ffff" stroke-width="0.6" />
<line x1="195.30" y1="126.00" x2="197.30" y2="126.00" stroke="#00ffff" stroke-width="0.6" />
<line x1="195.30" y1="131.00" x2="197.30" y2="131.00" stroke="#00ffff" stroke-width="0.6" />
<line x1="209.70" y1="122.50" x2="209.70" y2="127.50" stroke="#00ffff" stroke-width="0.6" />
<line x1="208.70" y1="122.50" x2="210.70" y2="122.50" stroke="#00ffff" stroke-width="0.6" />
<line x1="208.70" y1="127.50" x2="210.70" y2="127.50" stroke="#00ffff" stroke-width="0.6" />
<line x1="223.60" y1="119.00" x2="223.60" y2="124.00" stroke="#00ffff" stroke-width="0.6" />
<line x1="222.60" y1="119.00" x2="224.60" y2="119.00" stroke="#00ffff" stroke-width="0.6" />
<line x1="222.60" y1="124.00" x2="224.60" y2="124.00" stroke="#00ffff" stroke-width="0.6" />
<line x1="236.70" y1="112.50" x2="236.70" y2="117.00" stroke="#00ffff" stroke-width="0.6" />
<line x1="235.70" y1="112.50" x2="237.70" y2="112.50" stroke="#00ffff" stroke-width="0.6" />
<line x1="235.70" y1="117.00" x2="237.70" y2="117.00" stroke="#00ffff" stroke-width="0.6" />
<line x1="250.10" y1="107.50" x2="250.10" y2="112.00" stroke="#00ffff" stroke-width="0.6" />
<line x1="249.10" y1="107.50" x2="251.10" y2="107.50" stroke="#00ffff" stroke-width="0.6" />
<line x1="249.10" y1="112.00" x2="251.10" y2="112.00" stroke="#00ffff" stroke-width="0.6" />
<polygon points="168.70,135.70 170.42,132.50 166.97,132.50" fill="#fff" stroke="#00ffff" stroke-width="0.7" stroke-linejoin="miter"/>
<polygon points="182.10,137.60 183.82,134.40 180.38,134.40" fill="#fff" stroke="#00ffff" stroke-width="0.7" stroke-linejoin="miter"/>
<polygon points="196.30,130.10 198.03,126.90 194.58,126.90" fill="#fff" stroke="#00ffff" stroke-width="0.7" stroke-linejoin="miter"/>
<polygon points="209.70,126.50 211.42,123.30 207.97,123.30" fill="#fff" stroke="#00ffff" stroke-width="0.7" stroke-linejoin="miter"/>
<polygon points="223.60,123.00 225.32,119.80 221.88,119.80" fill="#fff" stroke="#00ffff" stroke-width="0.7" stroke-linejoin="miter"/>
<polygon points="236.70,116.30 238.42,113.10 234.97,113.10" fill="#fff" stroke="#00ffff" stroke-width="0.7" stroke-linejoin="miter"/>
<polygon points="250.10,111.20 251.82,108.00 248.38,108.00" fill="#fff" stroke="#00ffff" stroke-width="0.7" stroke-linejoin="miter"/>
<polyline points="169.00,133.40 183.50,132.00 197.70,127.00 211.90,121.40 226.70,115.70 240.90,110.50 255.80,104.40" fill="none" stroke="#008000" stroke-width="0.7" stroke-dasharray="0.9 1.8"/>
<line x1="169.00" y1="129.20" x2="169.00" y2="140.20" stroke="#008000" stroke-width="0.6" />
<line x1="168.00" y1="129.20" x2="170.00" y2="129.20" stroke="#008000" stroke-width="0.6" />
<line x1="168.00" y1="140.20" x2="170.00" y2="140.20" stroke="#008000" stroke-width="0.6" />
<line x1="183.50" y1="129.00" x2="183.50" y2="135.00" stroke="#008000" stroke-width="0.6" />
<line x1="182.50" y1="129.00" x2="184.50" y2="129.00" stroke="#008000" stroke-width="0.6" />
<line x1="182.50" y1="135.00" x2="184.50" y2="135.00" stroke="#008000" stroke-width="0.6" />
<line x1="197.70" y1="124.50" x2="197.70" y2="129.50" stroke="#008000" stroke-width="0.6" />
<line x1="196.70" y1="124.50" x2="198.70" y2="124.50" stroke="#008000" stroke-width="0.6" />
<line x1="196.70" y1="129.50" x2="198.70" y2="129.50" stroke="#008000" stroke-width="0.6" />
<line x1="211.90" y1="119.00" x2="211.90" y2="124.00" stroke="#008000" stroke-width="0.6" />
<line x1="210.90" y1="119.00" x2="212.90" y2="119.00" stroke="#008000" stroke-width="0.6" />
<line x1="210.90" y1="124.00" x2="212.90" y2="124.00" stroke="#008000" stroke-width="0.6" />
<line x1="226.70" y1="113.50" x2="226.70" y2="118.00" stroke="#008000" stroke-width="0.6" />
<line x1="225.70" y1="113.50" x2="227.70" y2="113.50" stroke="#008000" stroke-width="0.6" />
<line x1="225.70" y1="118.00" x2="227.70" y2="118.00" stroke="#008000" stroke-width="0.6" />
<line x1="240.90" y1="108.50" x2="240.90" y2="112.50" stroke="#008000" stroke-width="0.6" />
<line x1="239.90" y1="108.50" x2="241.90" y2="108.50" stroke="#008000" stroke-width="0.6" />
<line x1="239.90" y1="112.50" x2="241.90" y2="112.50" stroke="#008000" stroke-width="0.6" />
<line x1="255.80" y1="102.50" x2="255.80" y2="106.50" stroke="#008000" stroke-width="0.6" />
<line x1="254.80" y1="102.50" x2="256.80" y2="102.50" stroke="#008000" stroke-width="0.6" />
<line x1="254.80" y1="106.50" x2="256.80" y2="106.50" stroke="#008000" stroke-width="0.6" />
<polygon points="169.00,131.80 170.72,135.00 167.28,135.00" fill="#fff" stroke="#008000" stroke-width="0.7" stroke-linejoin="miter"/>
<polygon points="183.50,130.40 185.22,133.60 181.78,133.60" fill="#fff" stroke="#008000" stroke-width="0.7" stroke-linejoin="miter"/>
<polygon points="197.70,125.40 199.42,128.60 195.97,128.60" fill="#fff" stroke="#008000" stroke-width="0.7" stroke-linejoin="miter"/>
<polygon points="211.90,119.80 213.62,123.00 210.18,123.00" fill="#fff" stroke="#008000" stroke-width="0.7" stroke-linejoin="miter"/>
<polygon points="226.70,114.10 228.42,117.30 224.97,117.30" fill="#fff" stroke="#008000" stroke-width="0.7" stroke-linejoin="miter"/>
<polygon points="240.90,108.90 242.62,112.10 239.18,112.10" fill="#fff" stroke="#008000" stroke-width="0.7" stroke-linejoin="miter"/>
<polygon points="255.80,102.80 257.53,106.00 254.08,106.00" fill="#fff" stroke="#008000" stroke-width="0.7" stroke-linejoin="miter"/>
<rect x="374.40" y="98.2" width="97.10" height="77.80" fill="#fff" stroke="#888" stroke-width="1"/>
<line x1="396.05" y1="98.20" x2="396.05" y2="100.00" stroke="#777" stroke-width="0.8" />
<line x1="417.70" y1="98.20" x2="417.70" y2="100.00" stroke="#777" stroke-width="0.8" />
<line x1="439.35" y1="98.20" x2="439.35" y2="100.00" stroke="#777" stroke-width="0.8" />
<line x1="461.00" y1="98.20" x2="461.00" y2="100.00" stroke="#777" stroke-width="0.8" />
<text x="417.70" y="94.80" font-size="6.3" text-anchor="middle" font-weight="normal" fill="#111" >20</text>
<text x="461.00" y="94.80" font-size="6.3" text-anchor="middle" font-weight="normal" fill="#111" >40</text>
<line x1="373.10" y1="157.40" x2="374.40" y2="157.40" stroke="#777" stroke-width="0.7" />
<line x1="373.10" y1="151.75" x2="374.40" y2="151.75" stroke="#777" stroke-width="0.7" />
<line x1="373.10" y1="147.13" x2="374.40" y2="147.13" stroke="#777" stroke-width="0.7" />
<line x1="373.10" y1="143.23" x2="374.40" y2="143.23" stroke="#777" stroke-width="0.7" />
<line x1="373.10" y1="139.85" x2="374.40" y2="139.85" stroke="#777" stroke-width="0.7" />
<line x1="373.10" y1="136.87" x2="374.40" y2="136.87" stroke="#777" stroke-width="0.7" />
<line x1="373.10" y1="116.65" x2="374.40" y2="116.65" stroke="#777" stroke-width="0.7" />
<line x1="372.40" y1="134.20" x2="374.40" y2="134.20" stroke="#777" stroke-width="0.8" />
<text x="371.60" y="136.40" font-size="6.3" text-anchor="end" font-weight="normal" fill="#111" >1</text>
<line x1="372.40" y1="164.68" x2="374.40" y2="164.68" stroke="#777" stroke-width="0.8" />
<text x="371.60" y="166.88" font-size="6.3" text-anchor="end" font-weight="normal" fill="#111" >0.3</text>
<text x="376.10" y="108.00" font-size="11" text-anchor="start" font-weight="bold" fill="#000" >Time (s)</text>
<text transform="translate(360.80,140.8) rotate(-90)" font-size="9.6" font-weight="bold" text-anchor="middle">F<tspan font-size="7.7" dy="3">R</tspan><tspan dy="-3">/F</tspan><tspan font-size="7.7" dy="3">R,i</tspan></text>
<polyline points="383.80,133.90 403.50,142.60 422.90,131.40 442.20,137.20 461.40,126.10" fill="none" stroke="#ff0000" stroke-width="0.7" />
<line x1="383.80" y1="129.00" x2="383.80" y2="137.50" stroke="#ff0000" stroke-width="0.6" />
<line x1="382.80" y1="129.00" x2="384.80" y2="129.00" stroke="#ff0000" stroke-width="0.6" />
<line x1="382.80" y1="137.50" x2="384.80" y2="137.50" stroke="#ff0000" stroke-width="0.6" />
<line x1="403.50" y1="139.00" x2="403.50" y2="147.70" stroke="#ff0000" stroke-width="0.6" />
<line x1="402.50" y1="139.00" x2="404.50" y2="139.00" stroke="#ff0000" stroke-width="0.6" />
<line x1="402.50" y1="147.70" x2="404.50" y2="147.70" stroke="#ff0000" stroke-width="0.6" />
<line x1="422.90" y1="128.00" x2="422.90" y2="135.30" stroke="#ff0000" stroke-width="0.6" />
<line x1="421.90" y1="128.00" x2="423.90" y2="128.00" stroke="#ff0000" stroke-width="0.6" />
<line x1="421.90" y1="135.30" x2="423.90" y2="135.30" stroke="#ff0000" stroke-width="0.6" />
<line x1="442.20" y1="131.40" x2="442.20" y2="147.00" stroke="#ff0000" stroke-width="0.6" />
<line x1="441.20" y1="131.40" x2="443.20" y2="131.40" stroke="#ff0000" stroke-width="0.6" />
<line x1="441.20" y1="147.00" x2="443.20" y2="147.00" stroke="#ff0000" stroke-width="0.6" />
<line x1="461.40" y1="122.20" x2="461.40" y2="129.00" stroke="#ff0000" stroke-width="0.6" />
<line x1="460.40" y1="122.20" x2="462.40" y2="122.20" stroke="#ff0000" stroke-width="0.6" />
<line x1="460.40" y1="129.00" x2="462.40" y2="129.00" stroke="#ff0000" stroke-width="0.6" />
<rect x="382.38" y="132.47" width="2.85" height="2.85" fill="#ff0000" stroke="#ff0000" stroke-width="0.4"/>
<rect x="402.07" y="141.17" width="2.85" height="2.85" fill="#ff0000" stroke="#ff0000" stroke-width="0.4"/>
<rect x="421.47" y="129.97" width="2.85" height="2.85" fill="#ff0000" stroke="#ff0000" stroke-width="0.4"/>
<rect x="440.77" y="135.77" width="2.85" height="2.85" fill="#ff0000" stroke="#ff0000" stroke-width="0.4"/>
<rect x="459.97" y="124.67" width="2.85" height="2.85" fill="#ff0000" stroke="#ff0000" stroke-width="0.4"/>
<polyline points="382.00,133.90 398.40,138.20 414.40,141.20 430.50,138.70 446.80,136.10 463.30,128.00" fill="none" stroke="#ff8000" stroke-width="0.7" />
<line x1="382.00" y1="130.00" x2="382.00" y2="137.50" stroke="#ff8000" stroke-width="0.6" />
<line x1="381.00" y1="130.00" x2="383.00" y2="130.00" stroke="#ff8000" stroke-width="0.6" />
<line x1="381.00" y1="137.50" x2="383.00" y2="137.50" stroke="#ff8000" stroke-width="0.6" />
<line x1="398.40" y1="133.10" x2="398.40" y2="144.10" stroke="#ff8000" stroke-width="0.6" />
<line x1="397.40" y1="133.10" x2="399.40" y2="133.10" stroke="#ff8000" stroke-width="0.6" />
<line x1="397.40" y1="144.10" x2="399.40" y2="144.10" stroke="#ff8000" stroke-width="0.6" />
<line x1="414.40" y1="136.80" x2="414.40" y2="147.00" stroke="#ff8000" stroke-width="0.6" />
<line x1="413.40" y1="136.80" x2="415.40" y2="136.80" stroke="#ff8000" stroke-width="0.6" />
<line x1="413.40" y1="147.00" x2="415.40" y2="147.00" stroke="#ff8000" stroke-width="0.6" />
<line x1="430.50" y1="134.00" x2="430.50" y2="144.00" stroke="#ff8000" stroke-width="0.6" />
<line x1="429.50" y1="134.00" x2="431.50" y2="134.00" stroke="#ff8000" stroke-width="0.6" />
<line x1="429.50" y1="144.00" x2="431.50" y2="144.00" stroke="#ff8000" stroke-width="0.6" />
<line x1="446.80" y1="132.50" x2="446.80" y2="141.50" stroke="#ff8000" stroke-width="0.6" />
<line x1="445.80" y1="132.50" x2="447.80" y2="132.50" stroke="#ff8000" stroke-width="0.6" />
<line x1="445.80" y1="141.50" x2="447.80" y2="141.50" stroke="#ff8000" stroke-width="0.6" />
<line x1="463.30" y1="122.20" x2="463.30" y2="134.60" stroke="#ff8000" stroke-width="0.6" />
<line x1="462.30" y1="122.20" x2="464.30" y2="122.20" stroke="#ff8000" stroke-width="0.6" />
<line x1="462.30" y1="134.60" x2="464.30" y2="134.60" stroke="#ff8000" stroke-width="0.6" />
<circle cx="382.00" cy="133.90" r="1.65" fill="#ff8000"/>
<circle cx="398.40" cy="138.20" r="1.65" fill="#ff8000"/>
<circle cx="414.40" cy="141.20" r="1.65" fill="#ff8000"/>
<circle cx="430.50" cy="138.70" r="1.65" fill="#ff8000"/>
<circle cx="446.80" cy="136.10" r="1.65" fill="#ff8000"/>
<circle cx="463.30" cy="128.00" r="1.65" fill="#ff8000"/>
<polyline points="381.10,133.90 394.70,149.20 408.30,163.10 421.70,144.10 435.60,148.90 449.20,146.30 462.90,138.20" fill="none" stroke="#00ffff" stroke-width="0.7" />
<line x1="381.10" y1="130.00" x2="381.10" y2="138.00" stroke="#00ffff" stroke-width="0.6" />
<line x1="380.10" y1="130.00" x2="382.10" y2="130.00" stroke="#00ffff" stroke-width="0.6" />
<line x1="380.10" y1="138.00" x2="382.10" y2="138.00" stroke="#00ffff" stroke-width="0.6" />
<line x1="394.70" y1="143.40" x2="394.70" y2="157.70" stroke="#00ffff" stroke-width="0.6" />
<line x1="393.70" y1="143.40" x2="395.70" y2="143.40" stroke="#00ffff" stroke-width="0.6" />
<line x1="393.70" y1="157.70" x2="395.70" y2="157.70" stroke="#00ffff" stroke-width="0.6" />
<line x1="408.30" y1="155.00" x2="408.30" y2="176.00" stroke="#00ffff" stroke-width="0.6" />
<line x1="407.30" y1="155.00" x2="409.30" y2="155.00" stroke="#00ffff" stroke-width="0.6" />
<line x1="407.30" y1="176.00" x2="409.30" y2="176.00" stroke="#00ffff" stroke-width="0.6" />
<line x1="421.70" y1="141.00" x2="421.70" y2="147.00" stroke="#00ffff" stroke-width="0.6" />
<line x1="420.70" y1="141.00" x2="422.70" y2="141.00" stroke="#00ffff" stroke-width="0.6" />
<line x1="420.70" y1="147.00" x2="422.70" y2="147.00" stroke="#00ffff" stroke-width="0.6" />
<line x1="435.60" y1="146.00" x2="435.60" y2="152.00" stroke="#00ffff" stroke-width="0.6" />
<line x1="434.60" y1="146.00" x2="436.60" y2="146.00" stroke="#00ffff" stroke-width="0.6" />
<line x1="434.60" y1="152.00" x2="436.60" y2="152.00" stroke="#00ffff" stroke-width="0.6" />
<line x1="449.20" y1="143.50" x2="449.20" y2="149.00" stroke="#00ffff" stroke-width="0.6" />
<line x1="448.20" y1="143.50" x2="450.20" y2="143.50" stroke="#00ffff" stroke-width="0.6" />
<line x1="448.20" y1="149.00" x2="450.20" y2="149.00" stroke="#00ffff" stroke-width="0.6" />
<line x1="462.90" y1="134.50" x2="462.90" y2="141.50" stroke="#00ffff" stroke-width="0.6" />
<line x1="461.90" y1="134.50" x2="463.90" y2="134.50" stroke="#00ffff" stroke-width="0.6" />
<line x1="461.90" y1="141.50" x2="463.90" y2="141.50" stroke="#00ffff" stroke-width="0.6" />
<polygon points="381.10,135.65 383.05,132.15 379.15,132.15" fill="#00ffff" stroke="#00ffff" stroke-width="0.4"/>
<polygon points="394.70,150.95 396.65,147.45 392.75,147.45" fill="#00ffff" stroke="#00ffff" stroke-width="0.4"/>
<polygon points="408.30,164.85 410.25,161.35 406.35,161.35" fill="#00ffff" stroke="#00ffff" stroke-width="0.4"/>
<polygon points="421.70,145.85 423.65,142.35 419.75,142.35" fill="#00ffff" stroke="#00ffff" stroke-width="0.4"/>
<polygon points="435.60,150.65 437.55,147.15 433.65,147.15" fill="#00ffff" stroke="#00ffff" stroke-width="0.4"/>
<polygon points="449.20,148.05 451.15,144.55 447.25,144.55" fill="#00ffff" stroke="#00ffff" stroke-width="0.4"/>
<polygon points="462.90,139.95 464.85,136.45 460.95,136.45" fill="#00ffff" stroke="#00ffff" stroke-width="0.4"/>
<polyline points="381.60,134.60 395.70,147.70 410.00,146.60 424.60,147.40 439.00,145.10 453.50,141.20 467.70,135.30" fill="none" stroke="#008000" stroke-width="0.7" />
<line x1="381.60" y1="127.30" x2="381.60" y2="141.60" stroke="#008000" stroke-width="0.6" />
<line x1="380.60" y1="127.30" x2="382.60" y2="127.30" stroke="#008000" stroke-width="0.6" />
<line x1="380.60" y1="141.60" x2="382.60" y2="141.60" stroke="#008000" stroke-width="0.6" />
<line x1="395.70" y1="144.00" x2="395.70" y2="151.00" stroke="#008000" stroke-width="0.6" />
<line x1="394.70" y1="144.00" x2="396.70" y2="144.00" stroke="#008000" stroke-width="0.6" />
<line x1="394.70" y1="151.00" x2="396.70" y2="151.00" stroke="#008000" stroke-width="0.6" />
<line x1="410.00" y1="143.00" x2="410.00" y2="150.70" stroke="#008000" stroke-width="0.6" />
<line x1="409.00" y1="143.00" x2="411.00" y2="143.00" stroke="#008000" stroke-width="0.6" />
<line x1="409.00" y1="150.70" x2="411.00" y2="150.70" stroke="#008000" stroke-width="0.6" />
<line x1="424.60" y1="143.00" x2="424.60" y2="154.30" stroke="#008000" stroke-width="0.6" />
<line x1="423.60" y1="143.00" x2="425.60" y2="143.00" stroke="#008000" stroke-width="0.6" />
<line x1="423.60" y1="154.30" x2="425.60" y2="154.30" stroke="#008000" stroke-width="0.6" />
<line x1="439.00" y1="139.00" x2="439.00" y2="152.40" stroke="#008000" stroke-width="0.6" />
<line x1="438.00" y1="139.00" x2="440.00" y2="139.00" stroke="#008000" stroke-width="0.6" />
<line x1="438.00" y1="152.40" x2="440.00" y2="152.40" stroke="#008000" stroke-width="0.6" />
<line x1="453.50" y1="136.00" x2="453.50" y2="147.00" stroke="#008000" stroke-width="0.6" />
<line x1="452.50" y1="136.00" x2="454.50" y2="136.00" stroke="#008000" stroke-width="0.6" />
<line x1="452.50" y1="147.00" x2="454.50" y2="147.00" stroke="#008000" stroke-width="0.6" />
<line x1="467.70" y1="131.00" x2="467.70" y2="141.60" stroke="#008000" stroke-width="0.6" />
<line x1="466.70" y1="131.00" x2="468.70" y2="131.00" stroke="#008000" stroke-width="0.6" />
<line x1="466.70" y1="141.60" x2="468.70" y2="141.60" stroke="#008000" stroke-width="0.6" />
<polygon points="381.60,132.85 383.55,136.35 379.65,136.35" fill="#008000" stroke="#008000" stroke-width="0.4"/>
<polygon points="395.70,145.95 397.65,149.45 393.75,149.45" fill="#008000" stroke="#008000" stroke-width="0.4"/>
<polygon points="410.00,144.85 411.95,148.35 408.05,148.35" fill="#008000" stroke="#008000" stroke-width="0.4"/>
<polygon points="424.60,145.65 426.55,149.15 422.65,149.15" fill="#008000" stroke="#008000" stroke-width="0.4"/>
<polygon points="439.00,143.35 440.95,146.85 437.05,146.85" fill="#008000" stroke="#008000" stroke-width="0.4"/>
<polygon points="453.50,139.45 455.45,142.95 451.55,142.95" fill="#008000" stroke="#008000" stroke-width="0.4"/>
<polygon points="467.70,133.55 469.65,137.05 465.75,137.05" fill="#008000" stroke="#008000" stroke-width="0.4"/>
<rect x="587.20" y="98.2" width="96.80" height="77.80" fill="#fff" stroke="#888" stroke-width="1"/>
<line x1="608.85" y1="98.20" x2="608.85" y2="100.00" stroke="#777" stroke-width="0.8" />
<line x1="630.50" y1="98.20" x2="630.50" y2="100.00" stroke="#777" stroke-width="0.8" />
<line x1="652.15" y1="98.20" x2="652.15" y2="100.00" stroke="#777" stroke-width="0.8" />
<line x1="673.80" y1="98.20" x2="673.80" y2="100.00" stroke="#777" stroke-width="0.8" />
<text x="630.50" y="94.80" font-size="6.3" text-anchor="middle" font-weight="normal" fill="#111" >20</text>
<text x="673.80" y="94.80" font-size="6.3" text-anchor="middle" font-weight="normal" fill="#111" >40</text>
<line x1="585.90" y1="157.40" x2="587.20" y2="157.40" stroke="#777" stroke-width="0.7" />
<line x1="585.90" y1="151.75" x2="587.20" y2="151.75" stroke="#777" stroke-width="0.7" />
<line x1="585.90" y1="147.13" x2="587.20" y2="147.13" stroke="#777" stroke-width="0.7" />
<line x1="585.90" y1="143.23" x2="587.20" y2="143.23" stroke="#777" stroke-width="0.7" />
<line x1="585.90" y1="139.85" x2="587.20" y2="139.85" stroke="#777" stroke-width="0.7" />
<line x1="585.90" y1="136.87" x2="587.20" y2="136.87" stroke="#777" stroke-width="0.7" />
<line x1="585.90" y1="116.65" x2="587.20" y2="116.65" stroke="#777" stroke-width="0.7" />
<line x1="585.20" y1="134.20" x2="587.20" y2="134.20" stroke="#777" stroke-width="0.8" />
<text x="584.40" y="136.40" font-size="6.3" text-anchor="end" font-weight="normal" fill="#111" >1</text>
<line x1="585.20" y1="164.68" x2="587.20" y2="164.68" stroke="#777" stroke-width="0.8" />
<text x="584.40" y="166.88" font-size="6.3" text-anchor="end" font-weight="normal" fill="#111" >0.3</text>
<text x="588.30" y="107.60" font-size="11" text-anchor="start" font-weight="bold" fill="#000" >Time (s)</text>
<text transform="translate(573.60,140.8) rotate(-90)" font-size="9.6" font-weight="bold" text-anchor="middle">F<tspan font-size="7.7" dy="3">R</tspan><tspan dy="-3">/F</tspan><tspan font-size="7.7" dy="3">R,i</tspan></text>
<polyline points="596.20,134.00 616.00,132.20 635.90,129.40 655.00,126.50 674.10,120.60" fill="none" stroke="#ff0000" stroke-width="0.7" stroke-dasharray="2.5 1.6"/>
<line x1="596.20" y1="131.40" x2="596.20" y2="136.60" stroke="#ff0000" stroke-width="0.6" />
<line x1="595.20" y1="131.40" x2="597.20" y2="131.40" stroke="#ff0000" stroke-width="0.6" />
<line x1="595.20" y1="136.60" x2="597.20" y2="136.60" stroke="#ff0000" stroke-width="0.6" />
<line x1="616.00" y1="129.60" x2="616.00" y2="134.80" stroke="#ff0000" stroke-width="0.6" />
<line x1="615.00" y1="129.60" x2="617.00" y2="129.60" stroke="#ff0000" stroke-width="0.6" />
<line x1="615.00" y1="134.80" x2="617.00" y2="134.80" stroke="#ff0000" stroke-width="0.6" />
<line x1="635.90" y1="126.80" x2="635.90" y2="132.00" stroke="#ff0000" stroke-width="0.6" />
<line x1="634.90" y1="126.80" x2="636.90" y2="126.80" stroke="#ff0000" stroke-width="0.6" />
<line x1="634.90" y1="132.00" x2="636.90" y2="132.00" stroke="#ff0000" stroke-width="0.6" />
<line x1="655.00" y1="123.90" x2="655.00" y2="129.10" stroke="#ff0000" stroke-width="0.6" />
<line x1="654.00" y1="123.90" x2="656.00" y2="123.90" stroke="#ff0000" stroke-width="0.6" />
<line x1="654.00" y1="129.10" x2="656.00" y2="129.10" stroke="#ff0000" stroke-width="0.6" />
<line x1="674.10" y1="118.00" x2="674.10" y2="123.20" stroke="#ff0000" stroke-width="0.6" />
<line x1="673.10" y1="118.00" x2="675.10" y2="118.00" stroke="#ff0000" stroke-width="0.6" />
<line x1="673.10" y1="123.20" x2="675.10" y2="123.20" stroke="#ff0000" stroke-width="0.6" />
<rect x="594.78" y="132.57" width="2.85" height="2.85" fill="#ff0000" stroke="#ff0000" stroke-width="0.4"/>
<rect x="595.35" y="133.12" width="1.71" height="0.54" fill="#fff"/>
<rect x="614.58" y="130.77" width="2.85" height="2.85" fill="#ff0000" stroke="#ff0000" stroke-width="0.4"/>
<rect x="615.14" y="131.32" width="1.71" height="0.54" fill="#fff"/>
<rect x="634.48" y="127.98" width="2.85" height="2.85" fill="#ff0000" stroke="#ff0000" stroke-width="0.4"/>
<rect x="635.04" y="128.52" width="1.71" height="0.54" fill="#fff"/>
<rect x="653.58" y="125.08" width="2.85" height="2.85" fill="#ff0000" stroke="#ff0000" stroke-width="0.4"/>
<rect x="654.14" y="125.62" width="1.71" height="0.54" fill="#fff"/>
<rect x="672.68" y="119.17" width="2.85" height="2.85" fill="#ff0000" stroke="#ff0000" stroke-width="0.4"/>
<rect x="673.25" y="119.72" width="1.71" height="0.54" fill="#fff"/>
<polyline points="595.80,133.30 611.10,132.20 627.40,127.00 643.70,123.40 659.50,118.50 676.00,114.60" fill="none" stroke="#ff8000" stroke-width="0.7" stroke-dasharray="2.5 1.6"/>
<line x1="595.80" y1="130.70" x2="595.80" y2="135.90" stroke="#ff8000" stroke-width="0.6" />
<line x1="594.80" y1="130.70" x2="596.80" y2="130.70" stroke="#ff8000" stroke-width="0.6" />
<line x1="594.80" y1="135.90" x2="596.80" y2="135.90" stroke="#ff8000" stroke-width="0.6" />
<line x1="611.10" y1="129.60" x2="611.10" y2="134.80" stroke="#ff8000" stroke-width="0.6" />
<line x1="610.10" y1="129.60" x2="612.10" y2="129.60" stroke="#ff8000" stroke-width="0.6" />
<line x1="610.10" y1="134.80" x2="612.10" y2="134.80" stroke="#ff8000" stroke-width="0.6" />
<line x1="627.40" y1="124.40" x2="627.40" y2="129.60" stroke="#ff8000" stroke-width="0.6" />
<line x1="626.40" y1="124.40" x2="628.40" y2="124.40" stroke="#ff8000" stroke-width="0.6" />
<line x1="626.40" y1="129.60" x2="628.40" y2="129.60" stroke="#ff8000" stroke-width="0.6" />
<line x1="643.70" y1="120.80" x2="643.70" y2="126.00" stroke="#ff8000" stroke-width="0.6" />
<line x1="642.70" y1="120.80" x2="644.70" y2="120.80" stroke="#ff8000" stroke-width="0.6" />
<line x1="642.70" y1="126.00" x2="644.70" y2="126.00" stroke="#ff8000" stroke-width="0.6" />
<line x1="659.50" y1="115.90" x2="659.50" y2="121.10" stroke="#ff8000" stroke-width="0.6" />
<line x1="658.50" y1="115.90" x2="660.50" y2="115.90" stroke="#ff8000" stroke-width="0.6" />
<line x1="658.50" y1="121.10" x2="660.50" y2="121.10" stroke="#ff8000" stroke-width="0.6" />
<line x1="676.00" y1="112.00" x2="676.00" y2="117.20" stroke="#ff8000" stroke-width="0.6" />
<line x1="675.00" y1="112.00" x2="677.00" y2="112.00" stroke="#ff8000" stroke-width="0.6" />
<line x1="675.00" y1="117.20" x2="677.00" y2="117.20" stroke="#ff8000" stroke-width="0.6" />
<rect x="594.38" y="131.88" width="2.85" height="2.85" fill="#ff8000" stroke="#ff8000" stroke-width="0.4"/>
<rect x="594.94" y="132.42" width="1.71" height="0.54" fill="#fff"/>
<rect x="609.68" y="130.77" width="2.85" height="2.85" fill="#ff8000" stroke="#ff8000" stroke-width="0.4"/>
<rect x="610.25" y="131.32" width="1.71" height="0.54" fill="#fff"/>
<rect x="625.98" y="125.58" width="2.85" height="2.85" fill="#ff8000" stroke="#ff8000" stroke-width="0.4"/>
<rect x="626.54" y="126.12" width="1.71" height="0.54" fill="#fff"/>
<rect x="642.28" y="121.98" width="2.85" height="2.85" fill="#ff8000" stroke="#ff8000" stroke-width="0.4"/>
<rect x="642.85" y="122.52" width="1.71" height="0.54" fill="#fff"/>
<rect x="658.08" y="117.08" width="2.85" height="2.85" fill="#ff8000" stroke="#ff8000" stroke-width="0.4"/>
<rect x="658.64" y="117.62" width="1.71" height="0.54" fill="#fff"/>
<rect x="674.58" y="113.17" width="2.85" height="2.85" fill="#ff8000" stroke="#ff8000" stroke-width="0.4"/>
<rect x="675.14" y="113.72" width="1.71" height="0.54" fill="#fff"/>
<polyline points="593.80,134.00 607.50,130.20 621.70,134.00 635.20,123.40 648.20,121.70 662.80,120.30 675.50,116.60" fill="none" stroke="#00ffff" stroke-width="0.7" stroke-dasharray="2.5 1.6"/>
<line x1="593.80" y1="130.50" x2="593.80" y2="139.00" stroke="#00ffff" stroke-width="0.6" />
<line x1="592.80" y1="130.50" x2="594.80" y2="130.50" stroke="#00ffff" stroke-width="0.6" />
<line x1="592.80" y1="139.00" x2="594.80" y2="139.00" stroke="#00ffff" stroke-width="0.6" />
<line x1="607.50" y1="127.00" x2="607.50" y2="134.00" stroke="#00ffff" stroke-width="0.6" />
<line x1="606.50" y1="127.00" x2="608.50" y2="127.00" stroke="#00ffff" stroke-width="0.6" />
<line x1="606.50" y1="134.00" x2="608.50" y2="134.00" stroke="#00ffff" stroke-width="0.6" />
<line x1="621.70" y1="130.50" x2="621.70" y2="139.00" stroke="#00ffff" stroke-width="0.6" />
<line x1="620.70" y1="130.50" x2="622.70" y2="130.50" stroke="#00ffff" stroke-width="0.6" />
<line x1="620.70" y1="139.00" x2="622.70" y2="139.00" stroke="#00ffff" stroke-width="0.6" />
<line x1="635.20" y1="120.50" x2="635.20" y2="127.00" stroke="#00ffff" stroke-width="0.6" />
<line x1="634.20" y1="120.50" x2="636.20" y2="120.50" stroke="#00ffff" stroke-width="0.6" />
<line x1="634.20" y1="127.00" x2="636.20" y2="127.00" stroke="#00ffff" stroke-width="0.6" />
<line x1="648.20" y1="119.00" x2="648.20" y2="125.00" stroke="#00ffff" stroke-width="0.6" />
<line x1="647.20" y1="119.00" x2="649.20" y2="119.00" stroke="#00ffff" stroke-width="0.6" />
<line x1="647.20" y1="125.00" x2="649.20" y2="125.00" stroke="#00ffff" stroke-width="0.6" />
<line x1="662.80" y1="117.50" x2="662.80" y2="123.50" stroke="#00ffff" stroke-width="0.6" />
<line x1="661.80" y1="117.50" x2="663.80" y2="117.50" stroke="#00ffff" stroke-width="0.6" />
<line x1="661.80" y1="123.50" x2="663.80" y2="123.50" stroke="#00ffff" stroke-width="0.6" />
<line x1="675.50" y1="114.00" x2="675.50" y2="120.00" stroke="#00ffff" stroke-width="0.6" />
<line x1="674.50" y1="114.00" x2="676.50" y2="114.00" stroke="#00ffff" stroke-width="0.6" />
<line x1="674.50" y1="120.00" x2="676.50" y2="120.00" stroke="#00ffff" stroke-width="0.6" />
<rect x="592.38" y="132.57" width="2.85" height="2.85" fill="#00ffff" stroke="#00ffff" stroke-width="0.4"/>
<rect x="592.94" y="133.12" width="1.71" height="0.54" fill="#fff"/>
<rect x="606.08" y="128.77" width="2.85" height="2.85" fill="#00ffff" stroke="#00ffff" stroke-width="0.4"/>
<rect x="606.64" y="129.32" width="1.71" height="0.54" fill="#fff"/>
<rect x="620.28" y="132.57" width="2.85" height="2.85" fill="#00ffff" stroke="#00ffff" stroke-width="0.4"/>
<rect x="620.85" y="133.12" width="1.71" height="0.54" fill="#fff"/>
<rect x="633.78" y="121.98" width="2.85" height="2.85" fill="#00ffff" stroke="#00ffff" stroke-width="0.4"/>
<rect x="634.35" y="122.52" width="1.71" height="0.54" fill="#fff"/>
<rect x="646.78" y="120.28" width="2.85" height="2.85" fill="#00ffff" stroke="#00ffff" stroke-width="0.4"/>
<rect x="647.35" y="120.82" width="1.71" height="0.54" fill="#fff"/>
<rect x="661.38" y="118.88" width="2.85" height="2.85" fill="#00ffff" stroke="#00ffff" stroke-width="0.4"/>
<rect x="661.94" y="119.42" width="1.71" height="0.54" fill="#fff"/>
<rect x="674.08" y="115.17" width="2.85" height="2.85" fill="#00ffff" stroke="#00ffff" stroke-width="0.4"/>
<rect x="674.64" y="115.72" width="1.71" height="0.54" fill="#fff"/>
<polyline points="594.40,134.70 608.20,134.70 623.10,134.70 637.30,130.50 651.40,123.40 666.30,121.70 680.50,116.30" fill="none" stroke="#008000" stroke-width="0.7" stroke-dasharray="2.5 1.6"/>
<line x1="594.40" y1="132.10" x2="594.40" y2="137.30" stroke="#008000" stroke-width="0.6" />
<line x1="593.40" y1="132.10" x2="595.40" y2="132.10" stroke="#008000" stroke-width="0.6" />
<line x1="593.40" y1="137.30" x2="595.40" y2="137.30" stroke="#008000" stroke-width="0.6" />
<line x1="608.20" y1="132.10" x2="608.20" y2="137.30" stroke="#008000" stroke-width="0.6" />
<line x1="607.20" y1="132.10" x2="609.20" y2="132.10" stroke="#008000" stroke-width="0.6" />
<line x1="607.20" y1="137.30" x2="609.20" y2="137.30" stroke="#008000" stroke-width="0.6" />
<line x1="623.10" y1="132.10" x2="623.10" y2="137.30" stroke="#008000" stroke-width="0.6" />
<line x1="622.10" y1="132.10" x2="624.10" y2="132.10" stroke="#008000" stroke-width="0.6" />
<line x1="622.10" y1="137.30" x2="624.10" y2="137.30" stroke="#008000" stroke-width="0.6" />
<line x1="637.30" y1="127.90" x2="637.30" y2="133.10" stroke="#008000" stroke-width="0.6" />
<line x1="636.30" y1="127.90" x2="638.30" y2="127.90" stroke="#008000" stroke-width="0.6" />
<line x1="636.30" y1="133.10" x2="638.30" y2="133.10" stroke="#008000" stroke-width="0.6" />
<line x1="651.40" y1="120.80" x2="651.40" y2="126.00" stroke="#008000" stroke-width="0.6" />
<line x1="650.40" y1="120.80" x2="652.40" y2="120.80" stroke="#008000" stroke-width="0.6" />
<line x1="650.40" y1="126.00" x2="652.40" y2="126.00" stroke="#008000" stroke-width="0.6" />
<line x1="666.30" y1="119.10" x2="666.30" y2="124.30" stroke="#008000" stroke-width="0.6" />
<line x1="665.30" y1="119.10" x2="667.30" y2="119.10" stroke="#008000" stroke-width="0.6" />
<line x1="665.30" y1="124.30" x2="667.30" y2="124.30" stroke="#008000" stroke-width="0.6" />
<line x1="680.50" y1="113.70" x2="680.50" y2="118.90" stroke="#008000" stroke-width="0.6" />
<line x1="679.50" y1="113.70" x2="681.50" y2="113.70" stroke="#008000" stroke-width="0.6" />
<line x1="679.50" y1="118.90" x2="681.50" y2="118.90" stroke="#008000" stroke-width="0.6" />
<rect x="592.98" y="133.27" width="2.85" height="2.85" fill="#008000" stroke="#008000" stroke-width="0.4"/>
<rect x="593.54" y="133.82" width="1.71" height="0.54" fill="#fff"/>
<rect x="606.78" y="133.27" width="2.85" height="2.85" fill="#008000" stroke="#008000" stroke-width="0.4"/>
<rect x="607.35" y="133.82" width="1.71" height="0.54" fill="#fff"/>
<rect x="621.68" y="133.27" width="2.85" height="2.85" fill="#008000" stroke="#008000" stroke-width="0.4"/>
<rect x="622.25" y="133.82" width="1.71" height="0.54" fill="#fff"/>
<rect x="635.88" y="129.07" width="2.85" height="2.85" fill="#008000" stroke="#008000" stroke-width="0.4"/>
<rect x="636.44" y="129.62" width="1.71" height="0.54" fill="#fff"/>
<rect x="649.98" y="121.98" width="2.85" height="2.85" fill="#008000" stroke="#008000" stroke-width="0.4"/>
<rect x="650.54" y="122.52" width="1.71" height="0.54" fill="#fff"/>
<rect x="664.88" y="120.28" width="2.85" height="2.85" fill="#008000" stroke="#008000" stroke-width="0.4"/>
<rect x="665.44" y="120.82" width="1.71" height="0.54" fill="#fff"/>
<rect x="679.08" y="114.88" width="2.85" height="2.85" fill="#008000" stroke="#008000" stroke-width="0.4"/>
<rect x="679.64" y="115.42" width="1.71" height="0.54" fill="#fff"/>
<line x1="47.5" y1="5.3" x2="684" y2="5.3" stroke="#828282" stroke-width="1.4"/>
<line x1="47.50" y1="4.30" x2="47.50" y2="176.60" stroke="#505050" stroke-width="1.1" />
<line x1="259.50" y1="4.30" x2="259.50" y2="176.00" stroke="#505050" stroke-width="1.1" />
<line x1="471.50" y1="4.30" x2="471.50" y2="176.00" stroke="#505050" stroke-width="1.1" />
<line x1="684.00" y1="4.30" x2="684.00" y2="176.00" stroke="#777" stroke-width="1.2" />
<line x1="46.9" y1="176" x2="684.5" y2="176" stroke="#8a8a8a" stroke-width="1.4"/>
<line x1="45.50" y1="175.87" x2="47.50" y2="175.87" stroke="#505050" stroke-width="1.0" />
<line x1="45.50" y1="158.59" x2="47.50" y2="158.59" stroke="#505050" stroke-width="1.0" />
<line x1="259.50" y1="158.59" x2="261.50" y2="158.59" stroke="#505050" stroke-width="1.0" />
<line x1="471.50" y1="158.59" x2="473.50" y2="158.59" stroke="#505050" stroke-width="1.0" />
<line x1="45.50" y1="146.34" x2="47.50" y2="146.34" stroke="#505050" stroke-width="1.0" />
<line x1="259.50" y1="146.34" x2="261.50" y2="146.34" stroke="#505050" stroke-width="1.0" />
<line x1="471.50" y1="146.34" x2="473.50" y2="146.34" stroke="#505050" stroke-width="1.0" />
<line x1="45.50" y1="136.83" x2="47.50" y2="136.83" stroke="#505050" stroke-width="1.0" />
<line x1="259.50" y1="136.83" x2="261.50" y2="136.83" stroke="#505050" stroke-width="1.0" />
<line x1="471.50" y1="136.83" x2="473.50" y2="136.83" stroke="#505050" stroke-width="1.0" />
<line x1="45.50" y1="129.06" x2="47.50" y2="129.06" stroke="#505050" stroke-width="1.0" />
<line x1="259.50" y1="129.06" x2="261.50" y2="129.06" stroke="#505050" stroke-width="1.0" />
<line x1="471.50" y1="129.06" x2="473.50" y2="129.06" stroke="#505050" stroke-width="1.0" />
<line x1="45.50" y1="122.50" x2="47.50" y2="122.50" stroke="#505050" stroke-width="1.0" />
<line x1="259.50" y1="122.50" x2="261.50" y2="122.50" stroke="#505050" stroke-width="1.0" />
<line x1="471.50" y1="122.50" x2="473.50" y2="122.50" stroke="#505050" stroke-width="1.0" />
<line x1="45.50" y1="116.81" x2="47.50" y2="116.81" stroke="#505050" stroke-width="1.0" />
<line x1="259.50" y1="116.81" x2="261.50" y2="116.81" stroke="#505050" stroke-width="1.0" />
<line x1="471.50" y1="116.81" x2="473.50" y2="116.81" stroke="#505050" stroke-width="1.0" />
<line x1="45.50" y1="111.79" x2="47.50" y2="111.79" stroke="#505050" stroke-width="1.0" />
<line x1="259.50" y1="111.79" x2="261.50" y2="111.79" stroke="#505050" stroke-width="1.0" />
<line x1="471.50" y1="111.79" x2="473.50" y2="111.79" stroke="#505050" stroke-width="1.0" />
<line x1="44.30" y1="107.30" x2="47.50" y2="107.30" stroke="#505050" stroke-width="1.0" />
<line x1="259.50" y1="107.30" x2="262.70" y2="107.30" stroke="#505050" stroke-width="1.0" />
<line x1="471.50" y1="107.30" x2="474.70" y2="107.30" stroke="#505050" stroke-width="1.0" />
<line x1="45.50" y1="77.77" x2="47.50" y2="77.77" stroke="#505050" stroke-width="1.0" />
<line x1="259.50" y1="77.77" x2="261.50" y2="77.77" stroke="#505050" stroke-width="1.0" />
<line x1="471.50" y1="77.77" x2="473.50" y2="77.77" stroke="#505050" stroke-width="1.0" />
<line x1="45.50" y1="60.49" x2="47.50" y2="60.49" stroke="#505050" stroke-width="1.0" />
<line x1="259.50" y1="60.49" x2="261.50" y2="60.49" stroke="#505050" stroke-width="1.0" />
<line x1="471.50" y1="60.49" x2="473.50" y2="60.49" stroke="#505050" stroke-width="1.0" />
<line x1="45.50" y1="48.24" x2="47.50" y2="48.24" stroke="#505050" stroke-width="1.0" />
<line x1="259.50" y1="48.24" x2="261.50" y2="48.24" stroke="#505050" stroke-width="1.0" />
<line x1="471.50" y1="48.24" x2="473.50" y2="48.24" stroke="#505050" stroke-width="1.0" />
<line x1="45.50" y1="38.73" x2="47.50" y2="38.73" stroke="#505050" stroke-width="1.0" />
<line x1="259.50" y1="38.73" x2="261.50" y2="38.73" stroke="#505050" stroke-width="1.0" />
<line x1="471.50" y1="38.73" x2="473.50" y2="38.73" stroke="#505050" stroke-width="1.0" />
<line x1="45.50" y1="30.96" x2="47.50" y2="30.96" stroke="#505050" stroke-width="1.0" />
<line x1="259.50" y1="30.96" x2="261.50" y2="30.96" stroke="#505050" stroke-width="1.0" />
<line x1="471.50" y1="30.96" x2="473.50" y2="30.96" stroke="#505050" stroke-width="1.0" />
<line x1="45.50" y1="24.40" x2="47.50" y2="24.40" stroke="#505050" stroke-width="1.0" />
<line x1="259.50" y1="24.40" x2="261.50" y2="24.40" stroke="#505050" stroke-width="1.0" />
<line x1="471.50" y1="24.40" x2="473.50" y2="24.40" stroke="#505050" stroke-width="1.0" />
<line x1="45.50" y1="18.71" x2="47.50" y2="18.71" stroke="#505050" stroke-width="1.0" />
<line x1="259.50" y1="18.71" x2="261.50" y2="18.71" stroke="#505050" stroke-width="1.0" />
<line x1="471.50" y1="18.71" x2="473.50" y2="18.71" stroke="#505050" stroke-width="1.0" />
<line x1="45.50" y1="13.69" x2="47.50" y2="13.69" stroke="#505050" stroke-width="1.0" />
<line x1="259.50" y1="13.69" x2="261.50" y2="13.69" stroke="#505050" stroke-width="1.0" />
<line x1="471.50" y1="13.69" x2="473.50" y2="13.69" stroke="#505050" stroke-width="1.0" />
<line x1="44.30" y1="9.20" x2="47.50" y2="9.20" stroke="#505050" stroke-width="1.0" />
<line x1="259.50" y1="9.20" x2="262.70" y2="9.20" stroke="#505050" stroke-width="1.0" />
<line x1="471.50" y1="9.20" x2="474.70" y2="9.20" stroke="#505050" stroke-width="1.0" />
<text x="41.90" y="13.30" font-size="11.6" text-anchor="end" font-weight="normal" fill="#000" >10</text>
<text x="41.40" y="111.40" font-size="11.6" text-anchor="end" font-weight="normal" fill="#000" >1</text>
<text x="41.40" y="179.97" font-size="11.6" text-anchor="end" font-weight="normal" fill="#000" >0.2</text>
<line x1="47.50" y1="176.00" x2="47.50" y2="179.20" stroke="#505050" stroke-width="1.0" />
<line x1="71.08" y1="176.00" x2="71.08" y2="178.00" stroke="#505050" stroke-width="1.0" />
<line x1="94.67" y1="176.00" x2="94.67" y2="179.20" stroke="#505050" stroke-width="1.0" />
<line x1="118.25" y1="176.00" x2="118.25" y2="178.00" stroke="#505050" stroke-width="1.0" />
<line x1="141.84" y1="176.00" x2="141.84" y2="179.20" stroke="#505050" stroke-width="1.0" />
<line x1="165.43" y1="176.00" x2="165.43" y2="178.00" stroke="#505050" stroke-width="1.0" />
<line x1="189.01" y1="176.00" x2="189.01" y2="179.20" stroke="#505050" stroke-width="1.0" />
<line x1="212.59" y1="176.00" x2="212.59" y2="178.00" stroke="#505050" stroke-width="1.0" />
<line x1="236.18" y1="176.00" x2="236.18" y2="179.20" stroke="#505050" stroke-width="1.0" />
<line x1="259.76" y1="176.00" x2="259.76" y2="178.00" stroke="#505050" stroke-width="1.0" />
<text x="47.50" y="190.90" font-size="11.6" text-anchor="middle" font-weight="normal" fill="#000" >0</text>
<text x="94.67" y="190.90" font-size="11.6" text-anchor="middle" font-weight="normal" fill="#000" >10</text>
<text x="141.84" y="190.90" font-size="11.6" text-anchor="middle" font-weight="normal" fill="#000" >20</text>
<text x="189.01" y="190.90" font-size="11.6" text-anchor="middle" font-weight="normal" fill="#000" >30</text>
<text x="236.18" y="190.90" font-size="11.6" text-anchor="middle" font-weight="normal" fill="#000" >40</text>
<text x="153.50" y="207.90" font-size="19.2" text-anchor="middle" font-weight="bold" fill="#000" >Time (s)</text>
<line x1="259.40" y1="176.00" x2="259.40" y2="179.20" stroke="#505050" stroke-width="1.0" />
<line x1="282.98" y1="176.00" x2="282.98" y2="178.00" stroke="#505050" stroke-width="1.0" />
<line x1="306.57" y1="176.00" x2="306.57" y2="179.20" stroke="#505050" stroke-width="1.0" />
<line x1="330.15" y1="176.00" x2="330.15" y2="178.00" stroke="#505050" stroke-width="1.0" />
<line x1="353.74" y1="176.00" x2="353.74" y2="179.20" stroke="#505050" stroke-width="1.0" />
<line x1="377.32" y1="176.00" x2="377.32" y2="178.00" stroke="#505050" stroke-width="1.0" />
<line x1="400.91" y1="176.00" x2="400.91" y2="179.20" stroke="#505050" stroke-width="1.0" />
<line x1="424.50" y1="176.00" x2="424.50" y2="178.00" stroke="#505050" stroke-width="1.0" />
<line x1="448.08" y1="176.00" x2="448.08" y2="179.20" stroke="#505050" stroke-width="1.0" />
<line x1="471.66" y1="176.00" x2="471.66" y2="178.00" stroke="#505050" stroke-width="1.0" />
<text x="259.40" y="190.90" font-size="11.6" text-anchor="middle" font-weight="normal" fill="#000" >0</text>
<text x="306.57" y="190.90" font-size="11.6" text-anchor="middle" font-weight="normal" fill="#000" >10</text>
<text x="353.74" y="190.90" font-size="11.6" text-anchor="middle" font-weight="normal" fill="#000" >20</text>
<text x="400.91" y="190.90" font-size="11.6" text-anchor="middle" font-weight="normal" fill="#000" >30</text>
<text x="448.08" y="190.90" font-size="11.6" text-anchor="middle" font-weight="normal" fill="#000" >40</text>
<text x="365.40" y="207.90" font-size="19.2" text-anchor="middle" font-weight="bold" fill="#000" >Time (s)</text>
<line x1="471.40" y1="176.00" x2="471.40" y2="179.20" stroke="#505050" stroke-width="1.0" />
<line x1="494.98" y1="176.00" x2="494.98" y2="178.00" stroke="#505050" stroke-width="1.0" />
<line x1="518.57" y1="176.00" x2="518.57" y2="179.20" stroke="#505050" stroke-width="1.0" />
<line x1="542.15" y1="176.00" x2="542.15" y2="178.00" stroke="#505050" stroke-width="1.0" />
<line x1="565.74" y1="176.00" x2="565.74" y2="179.20" stroke="#505050" stroke-width="1.0" />
<line x1="589.32" y1="176.00" x2="589.32" y2="178.00" stroke="#505050" stroke-width="1.0" />
<line x1="612.91" y1="176.00" x2="612.91" y2="179.20" stroke="#505050" stroke-width="1.0" />
<line x1="636.50" y1="176.00" x2="636.50" y2="178.00" stroke="#505050" stroke-width="1.0" />
<line x1="660.08" y1="176.00" x2="660.08" y2="179.20" stroke="#505050" stroke-width="1.0" />
<line x1="683.66" y1="176.00" x2="683.66" y2="178.00" stroke="#505050" stroke-width="1.0" />
<text x="471.40" y="190.90" font-size="11.6" text-anchor="middle" font-weight="normal" fill="#000" >0</text>
<text x="518.57" y="190.90" font-size="11.6" text-anchor="middle" font-weight="normal" fill="#000" >10</text>
<text x="565.74" y="190.90" font-size="11.6" text-anchor="middle" font-weight="normal" fill="#000" >20</text>
<text x="612.91" y="190.90" font-size="11.6" text-anchor="middle" font-weight="normal" fill="#000" >30</text>
<text x="660.08" y="190.90" font-size="11.6" text-anchor="middle" font-weight="normal" fill="#000" >40</text>
<text x="577.40" y="207.90" font-size="19.2" text-anchor="middle" font-weight="bold" fill="#000" >Time (s)</text>
<rect x="580.6" y="303.3" width="104" height="84.2" fill="#fff" stroke="#888" stroke-width="1"/>
<line x1="46.6" y1="216.5" x2="684.5" y2="216.5" stroke="#555" stroke-width="1.2"/>
<line x1="46.60" y1="215.80" x2="46.60" y2="388.00" stroke="#505050" stroke-width="1.1" />
<line x1="259.00" y1="216.40" x2="259.00" y2="387.50" stroke="#9a9a9a" stroke-width="1.6" />
<line x1="471.80" y1="216.40" x2="471.80" y2="387.50" stroke="#9a9a9a" stroke-width="1.6" />
<line x1="684.30" y1="215.80" x2="684.30" y2="387.50" stroke="#505050" stroke-width="1.3" />
<line x1="46.00" y1="387.50" x2="684.50" y2="387.50" stroke="#3a3a3a" stroke-width="1.15" />
<line x1="43.40" y1="387.80" x2="46.60" y2="387.80" stroke="#505050" stroke-width="1.0" />
<line x1="255.80" y1="387.80" x2="259.00" y2="387.80" stroke="#505050" stroke-width="1.0" />
<line x1="468.60" y1="387.80" x2="471.80" y2="387.80" stroke="#505050" stroke-width="1.0" />
<line x1="44.60" y1="356.55" x2="46.60" y2="356.55" stroke="#505050" stroke-width="1.0" />
<line x1="257.00" y1="356.55" x2="259.00" y2="356.55" stroke="#505050" stroke-width="1.0" />
<line x1="469.80" y1="356.55" x2="471.80" y2="356.55" stroke="#505050" stroke-width="1.0" />
<line x1="44.60" y1="338.27" x2="46.60" y2="338.27" stroke="#505050" stroke-width="1.0" />
<line x1="257.00" y1="338.27" x2="259.00" y2="338.27" stroke="#505050" stroke-width="1.0" />
<line x1="469.80" y1="338.27" x2="471.80" y2="338.27" stroke="#505050" stroke-width="1.0" />
<line x1="44.60" y1="325.31" x2="46.60" y2="325.31" stroke="#505050" stroke-width="1.0" />
<line x1="257.00" y1="325.31" x2="259.00" y2="325.31" stroke="#505050" stroke-width="1.0" />
<line x1="469.80" y1="325.31" x2="471.80" y2="325.31" stroke="#505050" stroke-width="1.0" />
<line x1="44.60" y1="315.25" x2="46.60" y2="315.25" stroke="#505050" stroke-width="1.0" />
<line x1="257.00" y1="315.25" x2="259.00" y2="315.25" stroke="#505050" stroke-width="1.0" />
<line x1="469.80" y1="315.25" x2="471.80" y2="315.25" stroke="#505050" stroke-width="1.0" />
<line x1="44.60" y1="307.03" x2="46.60" y2="307.03" stroke="#505050" stroke-width="1.0" />
<line x1="257.00" y1="307.03" x2="259.00" y2="307.03" stroke="#505050" stroke-width="1.0" />
<line x1="469.80" y1="307.03" x2="471.80" y2="307.03" stroke="#505050" stroke-width="1.0" />
<line x1="44.60" y1="300.08" x2="46.60" y2="300.08" stroke="#505050" stroke-width="1.0" />
<line x1="257.00" y1="300.08" x2="259.00" y2="300.08" stroke="#505050" stroke-width="1.0" />
<line x1="469.80" y1="300.08" x2="471.80" y2="300.08" stroke="#505050" stroke-width="1.0" />
<line x1="44.60" y1="294.06" x2="46.60" y2="294.06" stroke="#505050" stroke-width="1.0" />
<line x1="257.00" y1="294.06" x2="259.00" y2="294.06" stroke="#505050" stroke-width="1.0" />
<line x1="469.80" y1="294.06" x2="471.80" y2="294.06" stroke="#505050" stroke-width="1.0" />
<line x1="44.60" y1="288.75" x2="46.60" y2="288.75" stroke="#505050" stroke-width="1.0" />
<line x1="257.00" y1="288.75" x2="259.00" y2="288.75" stroke="#505050" stroke-width="1.0" />
<line x1="469.80" y1="288.75" x2="471.80" y2="288.75" stroke="#505050" stroke-width="1.0" />
<line x1="43.40" y1="284.00" x2="46.60" y2="284.00" stroke="#505050" stroke-width="1.0" />
<line x1="255.80" y1="284.00" x2="259.00" y2="284.00" stroke="#505050" stroke-width="1.0" />
<line x1="468.60" y1="284.00" x2="471.80" y2="284.00" stroke="#505050" stroke-width="1.0" />
<line x1="44.60" y1="252.75" x2="46.60" y2="252.75" stroke="#505050" stroke-width="1.0" />
<line x1="257.00" y1="252.75" x2="259.00" y2="252.75" stroke="#505050" stroke-width="1.0" />
<line x1="469.80" y1="252.75" x2="471.80" y2="252.75" stroke="#505050" stroke-width="1.0" />
<line x1="44.60" y1="234.47" x2="46.60" y2="234.47" stroke="#505050" stroke-width="1.0" />
<line x1="257.00" y1="234.47" x2="259.00" y2="234.47" stroke="#505050" stroke-width="1.0" />
<line x1="469.80" y1="234.47" x2="471.80" y2="234.47" stroke="#505050" stroke-width="1.0" />
<line x1="44.60" y1="221.51" x2="46.60" y2="221.51" stroke="#505050" stroke-width="1.0" />
<line x1="257.00" y1="221.51" x2="259.00" y2="221.51" stroke="#505050" stroke-width="1.0" />
<line x1="469.80" y1="221.51" x2="471.80" y2="221.51" stroke="#505050" stroke-width="1.0" />
<text x="41.40" y="256.85" font-size="11.6" text-anchor="end" font-weight="normal" fill="#000" >0.2</text>
<text x="41.40" y="288.10" font-size="11.6" text-anchor="end" font-weight="normal" fill="#000" >0.1</text>
<text x="41.40" y="391.90" font-size="11.6" text-anchor="end" font-weight="normal" fill="#000" >0.01</text>
<line x1="46.30" y1="387.50" x2="46.30" y2="390.70" stroke="#505050" stroke-width="1.0" />
<line x1="69.88" y1="387.50" x2="69.88" y2="389.50" stroke="#505050" stroke-width="1.0" />
<line x1="93.45" y1="387.50" x2="93.45" y2="390.70" stroke="#505050" stroke-width="1.0" />
<line x1="117.02" y1="387.50" x2="117.02" y2="389.50" stroke="#505050" stroke-width="1.0" />
<line x1="140.60" y1="387.50" x2="140.60" y2="390.70" stroke="#505050" stroke-width="1.0" />
<line x1="164.18" y1="387.50" x2="164.18" y2="389.50" stroke="#505050" stroke-width="1.0" />
<line x1="187.75" y1="387.50" x2="187.75" y2="390.70" stroke="#505050" stroke-width="1.0" />
<line x1="211.32" y1="387.50" x2="211.32" y2="389.50" stroke="#505050" stroke-width="1.0" />
<line x1="234.90" y1="387.50" x2="234.90" y2="390.70" stroke="#505050" stroke-width="1.0" />
<line x1="258.47" y1="387.50" x2="258.47" y2="389.50" stroke="#505050" stroke-width="1.0" />
<text x="46.30" y="401.90" font-size="11.4" text-anchor="middle" font-weight="normal" fill="#000" >0</text>
<text x="93.45" y="401.90" font-size="11.4" text-anchor="middle" font-weight="normal" fill="#000" >10</text>
<text x="140.60" y="401.90" font-size="11.4" text-anchor="middle" font-weight="normal" fill="#000" >20</text>
<text x="187.75" y="401.90" font-size="11.4" text-anchor="middle" font-weight="normal" fill="#000" >30</text>
<text x="234.90" y="401.90" font-size="11.4" text-anchor="middle" font-weight="normal" fill="#000" >40</text>
<text x="152.30" y="418.90" font-size="19.2" text-anchor="middle" font-weight="bold" fill="#000" >Time (s)</text>
<line x1="259.50" y1="387.50" x2="259.50" y2="390.70" stroke="#505050" stroke-width="1.0" />
<line x1="283.07" y1="387.50" x2="283.07" y2="389.50" stroke="#505050" stroke-width="1.0" />
<line x1="306.65" y1="387.50" x2="306.65" y2="390.70" stroke="#505050" stroke-width="1.0" />
<line x1="330.23" y1="387.50" x2="330.23" y2="389.50" stroke="#505050" stroke-width="1.0" />
<line x1="353.80" y1="387.50" x2="353.80" y2="390.70" stroke="#505050" stroke-width="1.0" />
<line x1="377.38" y1="387.50" x2="377.38" y2="389.50" stroke="#505050" stroke-width="1.0" />
<line x1="400.95" y1="387.50" x2="400.95" y2="390.70" stroke="#505050" stroke-width="1.0" />
<line x1="424.52" y1="387.50" x2="424.52" y2="389.50" stroke="#505050" stroke-width="1.0" />
<line x1="448.10" y1="387.50" x2="448.10" y2="390.70" stroke="#505050" stroke-width="1.0" />
<line x1="471.67" y1="387.50" x2="471.67" y2="389.50" stroke="#505050" stroke-width="1.0" />
<text x="259.50" y="401.90" font-size="11.4" text-anchor="middle" font-weight="normal" fill="#000" >0</text>
<text x="306.65" y="401.90" font-size="11.4" text-anchor="middle" font-weight="normal" fill="#000" >10</text>
<text x="353.80" y="401.90" font-size="11.4" text-anchor="middle" font-weight="normal" fill="#000" >20</text>
<text x="400.95" y="401.90" font-size="11.4" text-anchor="middle" font-weight="normal" fill="#000" >30</text>
<text x="448.10" y="401.90" font-size="11.4" text-anchor="middle" font-weight="normal" fill="#000" >40</text>
<text x="365.50" y="418.90" font-size="19.2" text-anchor="middle" font-weight="bold" fill="#000" >Time (s)</text>
<line x1="472.20" y1="387.50" x2="472.20" y2="390.70" stroke="#505050" stroke-width="1.0" />
<line x1="495.77" y1="387.50" x2="495.77" y2="389.50" stroke="#505050" stroke-width="1.0" />
<line x1="519.35" y1="387.50" x2="519.35" y2="390.70" stroke="#505050" stroke-width="1.0" />
<line x1="542.92" y1="387.50" x2="542.92" y2="389.50" stroke="#505050" stroke-width="1.0" />
<line x1="566.50" y1="387.50" x2="566.50" y2="390.70" stroke="#505050" stroke-width="1.0" />
<line x1="590.08" y1="387.50" x2="590.08" y2="389.50" stroke="#505050" stroke-width="1.0" />
<line x1="613.65" y1="387.50" x2="613.65" y2="390.70" stroke="#505050" stroke-width="1.0" />
<line x1="637.23" y1="387.50" x2="637.23" y2="389.50" stroke="#505050" stroke-width="1.0" />
<line x1="660.80" y1="387.50" x2="660.80" y2="390.70" stroke="#505050" stroke-width="1.0" />
<line x1="684.38" y1="387.50" x2="684.38" y2="389.50" stroke="#505050" stroke-width="1.0" />
<text x="472.20" y="401.90" font-size="11.4" text-anchor="middle" font-weight="normal" fill="#000" >0</text>
<text x="519.35" y="401.90" font-size="11.4" text-anchor="middle" font-weight="normal" fill="#000" >10</text>
<text x="566.50" y="401.90" font-size="11.4" text-anchor="middle" font-weight="normal" fill="#000" >20</text>
<text x="613.65" y="401.90" font-size="11.4" text-anchor="middle" font-weight="normal" fill="#000" >30</text>
<text x="660.80" y="401.90" font-size="11.4" text-anchor="middle" font-weight="normal" fill="#000" >40</text>
<text x="578.20" y="418.90" font-size="19.2" text-anchor="middle" font-weight="bold" fill="#000" >Time (s)</text>
<line x1="589.80" y1="303.30" x2="589.80" y2="305.00" stroke="#777" stroke-width="0.8" />
<line x1="616.95" y1="303.30" x2="616.95" y2="305.00" stroke="#777" stroke-width="0.8" />
<line x1="632.84" y1="303.30" x2="632.84" y2="305.00" stroke="#777" stroke-width="0.8" />
<line x1="644.11" y1="303.30" x2="644.11" y2="305.00" stroke="#777" stroke-width="0.8" />
<line x1="652.85" y1="303.30" x2="652.85" y2="305.00" stroke="#777" stroke-width="0.8" />
<line x1="659.99" y1="303.30" x2="659.99" y2="305.00" stroke="#777" stroke-width="0.8" />
<line x1="666.03" y1="303.30" x2="666.03" y2="305.00" stroke="#777" stroke-width="0.8" />
<line x1="671.26" y1="303.30" x2="671.26" y2="305.00" stroke="#777" stroke-width="0.8" />
<line x1="675.87" y1="303.30" x2="675.87" y2="305.00" stroke="#777" stroke-width="0.8" />
<line x1="579.00" y1="361.30" x2="580.60" y2="361.30" stroke="#777" stroke-width="0.8" />
<line x1="579.00" y1="346.56" x2="580.60" y2="346.56" stroke="#777" stroke-width="0.8" />
<line x1="579.00" y1="336.11" x2="580.60" y2="336.11" stroke="#777" stroke-width="0.8" />
<line x1="579.00" y1="328.00" x2="580.60" y2="328.00" stroke="#777" stroke-width="0.8" />
<line x1="579.00" y1="321.37" x2="580.60" y2="321.37" stroke="#777" stroke-width="0.8" />
<line x1="579.00" y1="315.77" x2="580.60" y2="315.77" stroke="#777" stroke-width="0.8" />
<line x1="579.00" y1="310.91" x2="580.60" y2="310.91" stroke="#777" stroke-width="0.8" />
<line x1="579.00" y1="306.63" x2="580.60" y2="306.63" stroke="#777" stroke-width="0.8" />
<line x1="579.00" y1="302.80" x2="580.60" y2="302.80" stroke="#777" stroke-width="0.8" />
<text x="589.80" y="301.20" font-size="7" text-anchor="middle" font-weight="normal" fill="#000" >10</text>
<text x="675.87" y="301.20" font-size="7" text-anchor="middle" font-weight="normal" fill="#000" >90</text>
<text x="578.30" y="305.20" font-size="7" text-anchor="end" font-weight="normal" fill="#000" >10</text>
<text x="578.30" y="330.40" font-size="7" text-anchor="end" font-weight="normal" fill="#000" >5</text>
<text x="578.30" y="363.70" font-size="7" text-anchor="end" font-weight="normal" fill="#000" >2</text>
<text x="619.0" y="299.9" font-size="11.3" fill="#111">γ</text>
<text x="628.2" y="300.1" font-size="11.6" font-weight="bold">(s<tspan font-size="7.6" dy="-4.8">-1</tspan><tspan dy="4.8">)</tspan></text>
<circle cx="622.2" cy="290.2" r="1.2" fill="#000"/>
<g transform="translate(567.6,381.4) rotate(-90)"><text x="0" y="0" font-size="10.8" font-weight="bold">&lt;F<tspan font-size="7.6" dy="2.2">R</tspan><tspan dy="-2.2" font-weight="normal">γ</tspan>/F<tspan font-size="7.6" dy="2.2">M</tspan><tspan dy="-2.2">&gt; (s</tspan><tspan font-size="7.6" dy="-4.2">-1</tspan><tspan dy="4.2">)</tspan></text><circle cx="15.6" cy="-8.6" r="0.85" fill="#000"/></g>
<polyline points="587.60,371.70 614.90,347.70 646.80,322.60 676.50,321.40" fill="none" stroke="#c8c8c8" stroke-width="0.8" />
<line x1="587.60" y1="368.00" x2="587.60" y2="375.00" stroke="#c0c0c0" stroke-width="0.8" />
<line x1="586.40" y1="368.00" x2="588.80" y2="368.00" stroke="#c0c0c0" stroke-width="0.8" />
<line x1="586.40" y1="375.00" x2="588.80" y2="375.00" stroke="#c0c0c0" stroke-width="0.8" />
<line x1="614.90" y1="345.00" x2="614.90" y2="350.50" stroke="#c0c0c0" stroke-width="0.8" />
<line x1="613.70" y1="345.00" x2="616.10" y2="345.00" stroke="#c0c0c0" stroke-width="0.8" />
<line x1="613.70" y1="350.50" x2="616.10" y2="350.50" stroke="#c0c0c0" stroke-width="0.8" />
<line x1="646.80" y1="320.00" x2="646.80" y2="326.00" stroke="#c0c0c0" stroke-width="0.8" />
<line x1="645.60" y1="320.00" x2="648.00" y2="320.00" stroke="#c0c0c0" stroke-width="0.8" />
<line x1="645.60" y1="326.00" x2="648.00" y2="326.00" stroke="#c0c0c0" stroke-width="0.8" />
<line x1="676.50" y1="316.00" x2="676.50" y2="327.00" stroke="#c0c0c0" stroke-width="0.8" />
<line x1="675.30" y1="316.00" x2="677.70" y2="316.00" stroke="#c0c0c0" stroke-width="0.8" />
<line x1="675.30" y1="327.00" x2="677.70" y2="327.00" stroke="#c0c0c0" stroke-width="0.8" />
<polygon points="585.70,369.80 589.50,369.80 589.50,373.60 585.70,373.60" fill="#c0c0c0"/>
<polygon points="613.00,345.80 616.80,345.80 616.80,349.60 613.00,349.60" fill="#c0c0c0"/>
<polygon points="646.80,320.51 649.08,324.50 644.52,324.50" fill="#c0c0c0"/>
<polygon points="676.50,323.49 678.78,319.50 674.22,319.50" fill="#c0c0c0"/>
<polyline points="587.60,348.30 614.90,337.80 646.80,322.60 676.50,309.60" fill="none" stroke="#888" stroke-width="0.8" stroke-dasharray="3 2"/>
<line x1="587.60" y1="346.00" x2="587.60" y2="351.00" stroke="#8a8a8a" stroke-width="0.8" />
<line x1="586.40" y1="346.00" x2="588.80" y2="346.00" stroke="#8a8a8a" stroke-width="0.8" />
<line x1="586.40" y1="351.00" x2="588.80" y2="351.00" stroke="#8a8a8a" stroke-width="0.8" />
<line x1="614.90" y1="335.00" x2="614.90" y2="341.00" stroke="#8a8a8a" stroke-width="0.8" />
<line x1="613.70" y1="335.00" x2="616.10" y2="335.00" stroke="#8a8a8a" stroke-width="0.8" />
<line x1="613.70" y1="341.00" x2="616.10" y2="341.00" stroke="#8a8a8a" stroke-width="0.8" />
<line x1="646.80" y1="320.00" x2="646.80" y2="325.00" stroke="#8a8a8a" stroke-width="0.8" />
<line x1="645.60" y1="320.00" x2="648.00" y2="320.00" stroke="#8a8a8a" stroke-width="0.8" />
<line x1="645.60" y1="325.00" x2="648.00" y2="325.00" stroke="#8a8a8a" stroke-width="0.8" />
<line x1="676.50" y1="305.00" x2="676.50" y2="314.00" stroke="#8a8a8a" stroke-width="0.8" />
<line x1="675.30" y1="305.00" x2="677.70" y2="305.00" stroke="#8a8a8a" stroke-width="0.8" />
<line x1="675.30" y1="314.00" x2="677.70" y2="314.00" stroke="#8a8a8a" stroke-width="0.8" />
<polygon points="585.70,346.40 589.50,346.40 589.50,350.20 585.70,350.20" fill="#7a7a7a"/>
<rect x="586.46" y="347.25" width="2.28" height="0.85" fill="#fff"/>
<polygon points="613.00,335.90 616.80,335.90 616.80,339.70 613.00,339.70" fill="#7a7a7a"/>
<rect x="613.76" y="336.75" width="2.28" height="0.85" fill="#fff"/>
<polygon points="646.80,320.51 649.08,324.50 644.52,324.50" fill="#7a7a7a"/>
<rect x="645.66" y="321.56" width="2.28" height="0.85" fill="#fff"/>
<polygon points="676.50,311.69 678.78,307.70 674.22,307.70" fill="#7a7a7a"/>
<rect x="675.36" y="308.56" width="2.28" height="0.85" fill="#fff"/>
<polyline points="587.60,371.20 614.90,362.30 646.80,348.80 676.50,338.60" fill="none" stroke="#666" stroke-width="0.8" stroke-dasharray="0.9 2"/>
<line x1="587.60" y1="366.00" x2="587.60" y2="377.00" stroke="#555" stroke-width="0.8" />
<line x1="586.40" y1="366.00" x2="588.80" y2="366.00" stroke="#555" stroke-width="0.8" />
<line x1="586.40" y1="377.00" x2="588.80" y2="377.00" stroke="#555" stroke-width="0.8" />
<line x1="614.90" y1="356.50" x2="614.90" y2="369.50" stroke="#555" stroke-width="0.8" />
<line x1="613.70" y1="356.50" x2="616.10" y2="356.50" stroke="#555" stroke-width="0.8" />
<line x1="613.70" y1="369.50" x2="616.10" y2="369.50" stroke="#555" stroke-width="0.8" />
<line x1="646.80" y1="343.00" x2="646.80" y2="355.00" stroke="#555" stroke-width="0.8" />
<line x1="645.60" y1="343.00" x2="648.00" y2="343.00" stroke="#555" stroke-width="0.8" />
<line x1="645.60" y1="355.00" x2="648.00" y2="355.00" stroke="#555" stroke-width="0.8" />
<line x1="676.50" y1="332.00" x2="676.50" y2="345.00" stroke="#555" stroke-width="0.8" />
<line x1="675.30" y1="332.00" x2="677.70" y2="332.00" stroke="#555" stroke-width="0.8" />
<line x1="675.30" y1="345.00" x2="677.70" y2="345.00" stroke="#555" stroke-width="0.8" />
<polygon points="586.00,369.60 589.20,369.60 589.20,372.80 586.00,372.80" fill="#fff" stroke="#333" stroke-width="0.8"/>
<polygon points="613.30,360.70 616.50,360.70 616.50,363.90 613.30,363.90" fill="#fff" stroke="#333" stroke-width="0.8"/>
<polygon points="645.20,347.20 648.40,347.20 648.40,350.40 645.20,350.40" fill="#fff" stroke="#333" stroke-width="0.8"/>
<polygon points="674.90,337.00 678.10,337.00 678.10,340.20 674.90,340.20" fill="#fff" stroke="#333" stroke-width="0.8"/>
<line x1="633.8" y1="360.3" x2="651.7" y2="360.3" stroke="#666" stroke-width="0.9" stroke-dasharray="0.9 2"/>
<polygon points="641.80,358.70 645.00,358.70 645.00,361.90 641.80,361.90" fill="#fff" stroke="#333" stroke-width="0.8"/>
<text x="656.20" y="363.80" font-size="9.6" text-anchor="start" font-weight="normal" fill="#000" >0.5:0</text>
<line x1="633.8" y1="370.8" x2="651.7" y2="370.8" stroke="#c8c8c8" stroke-width="0.9" />
<polygon points="641.50,368.90 645.30,368.90 645.30,372.70 641.50,372.70" fill="#c0c0c0"/>
<text x="656.20" y="374.30" font-size="9.6" text-anchor="start" font-weight="normal" fill="#000" >0.65:0</text>
<line x1="633.8" y1="381.3" x2="651.7" y2="381.3" stroke="#888" stroke-width="0.9" stroke-dasharray="3 2"/>
<polygon points="641.50,379.40 645.30,379.40 645.30,383.20 641.50,383.20" fill="#7a7a7a"/>
<rect x="642.26" y="380.25" width="2.28" height="0.85" fill="#fff"/>
<text x="656.20" y="384.80" font-size="9.6" text-anchor="start" font-weight="normal" fill="#000" >0.5:6.4</text>
<text x="48.60" y="171.00" font-size="15" text-anchor="start" font-weight="normal" fill="#000" letter-spacing="-0.15">0.5:0</text>
<text x="262.60" y="171.30" font-size="15" text-anchor="start" font-weight="normal" fill="#000" letter-spacing="-0.15">0.65:0</text>
<text x="477.10" y="171.30" font-size="15" text-anchor="start" font-weight="normal" fill="#000" letter-spacing="-0.15">0.5:6.4</text>
<text x="48.30" y="382.60" font-size="15" text-anchor="start" font-weight="normal" fill="#000" letter-spacing="-0.15">0.5:0</text>
<text x="263.50" y="382.60" font-size="15" text-anchor="start" font-weight="normal" fill="#000" letter-spacing="-0.15">0.65:0</text>
<text x="477.30" y="382.60" font-size="15" text-anchor="start" font-weight="normal" fill="#000" letter-spacing="-0.15">0.5:6.4</text>
<text x="-0.40" y="18.00" font-size="24.4" text-anchor="start" font-weight="normal" fill="#333" letter-spacing="0.25">(a)</text>
<text x="-0.80" y="216.40" font-size="24.6" text-anchor="start" font-weight="normal" fill="#333" letter-spacing="0.7">(b)</text>
<text transform="translate(21.4,93.4) rotate(-90)" font-size="18.8" font-weight="bold" text-anchor="middle">F<tspan font-size="14.3" dy="4.3">R</tspan><tspan dy="-4.3"> (pN)</tspan></text>
<text transform="translate(13.8,303.4) rotate(-90)" font-size="18.8" font-weight="bold" text-anchor="middle">F<tspan font-size="14.3" dy="4.3">R</tspan><tspan dy="-4.3">/F</tspan><tspan font-size="14.3" dy="4.3">M</tspan></text>
</svg>
</body></html>
